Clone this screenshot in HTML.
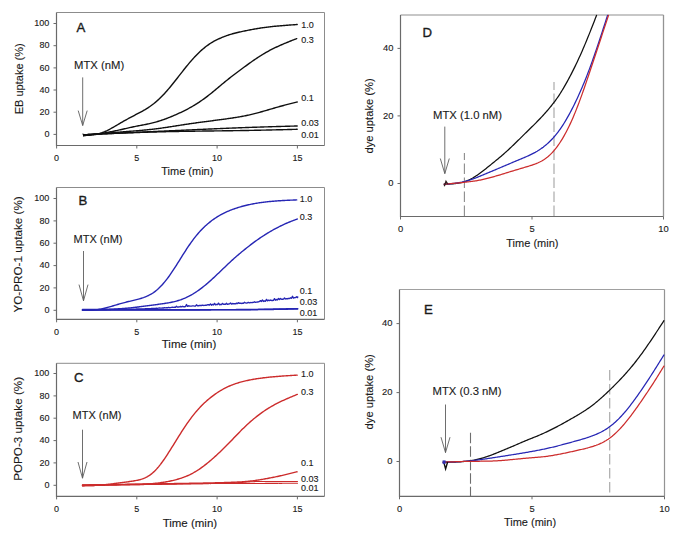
<!DOCTYPE html><html><head><meta charset="utf-8"><style>
html,body{margin:0;padding:0;background:#fff;width:685px;height:542px;overflow:hidden}
svg{display:block} text{font-family:"Liberation Sans", sans-serif;fill:#1a1a1a;stroke:#1a1a1a;stroke-width:0.12px} .t{font-size:9px} .ti{font-size:11px} .pl{font-size:13.2px;stroke-width:0.35px} .cl{font-size:9px} .mt{font-size:11.3px}
</style></head><body>
<svg width="685" height="542" viewBox="0 0 685 542">
<path d="M56.5,12.5 H324.5" stroke="#8c8c8c" stroke-width="1.0" fill="none"/>
<path d="M324.5,12.5 V145.5" stroke="#8c8c8c" stroke-width="1.0" fill="none"/>
<path d="M56.5,12.5 V145.5 H324.5" stroke="#6a6a6a" stroke-width="1.2" fill="none"/>
<line x1="53.5" y1="134.4" x2="56.5" y2="134.4" stroke="#6a6a6a" stroke-width="1"/>
<text x="49.4" y="137.0" text-anchor="end" class="t" style="font-size:9px">0</text>
<line x1="53.5" y1="112.2" x2="56.5" y2="112.2" stroke="#6a6a6a" stroke-width="1"/>
<text x="49.4" y="114.8" text-anchor="end" class="t" style="font-size:9px">20</text>
<line x1="53.5" y1="90.0" x2="56.5" y2="90.0" stroke="#6a6a6a" stroke-width="1"/>
<text x="49.4" y="92.6" text-anchor="end" class="t" style="font-size:9px">40</text>
<line x1="53.5" y1="67.9" x2="56.5" y2="67.9" stroke="#6a6a6a" stroke-width="1"/>
<text x="49.4" y="70.5" text-anchor="end" class="t" style="font-size:9px">60</text>
<line x1="53.5" y1="45.7" x2="56.5" y2="45.7" stroke="#6a6a6a" stroke-width="1"/>
<text x="49.4" y="48.3" text-anchor="end" class="t" style="font-size:9px">80</text>
<line x1="53.5" y1="23.5" x2="56.5" y2="23.5" stroke="#6a6a6a" stroke-width="1"/>
<text x="49.4" y="26.1" text-anchor="end" class="t" style="font-size:9px">100</text>
<line x1="56.6" y1="145.5" x2="56.6" y2="148.5" stroke="#6a6a6a" stroke-width="1"/>
<text x="56.6" y="160.7" text-anchor="middle" class="t" style="font-size:9px">0</text>
<line x1="136.8" y1="145.5" x2="136.8" y2="148.5" stroke="#6a6a6a" stroke-width="1"/>
<text x="136.8" y="160.7" text-anchor="middle" class="t" style="font-size:9px">5</text>
<line x1="217.1" y1="145.5" x2="217.1" y2="148.5" stroke="#6a6a6a" stroke-width="1"/>
<text x="217.1" y="160.7" text-anchor="middle" class="t" style="font-size:9px">10</text>
<line x1="297.4" y1="145.5" x2="297.4" y2="148.5" stroke="#6a6a6a" stroke-width="1"/>
<text x="297.4" y="160.7" text-anchor="middle" class="t" style="font-size:9px">15</text>
<text x="187.3" y="175.2" text-anchor="middle" class="ti" style="font-size:11px">Time (min)</text>
<text transform="translate(22.6,78.8) rotate(-90)" text-anchor="middle" class="ti" style="font-size:11px">EB uptake (%)</text>
<text x="76.5" y="32.4" class="pl">A</text>
<text x="74" y="68.6" class="mt">MTX (nM)</text>
<path d="M82.7,77.4 V125.5 M78.2,110.6 L82.7,125.5 L87.2,110.6" stroke="#5e5e5e" stroke-width="0.9" fill="none"/>
<path d="M83.60,134.80 L84.60,134.75 L85.60,134.70 L86.60,134.66 L87.60,134.61 L88.60,134.56 L89.60,134.51 L90.60,134.46 L91.60,134.42 L92.60,134.37 L93.60,134.32 L94.60,134.28 L95.60,134.23 L96.60,134.18 L97.60,134.14 L98.60,134.09 L99.60,134.05 L100.60,134.00 L101.60,133.96 L102.60,133.91 L103.60,133.87 L104.60,133.82 L105.60,133.78 L106.60,133.74 L107.60,133.69 L108.60,133.65 L109.60,133.61 L110.60,133.56 L111.60,133.52 L112.60,133.48 L113.60,133.44 L114.60,133.39 L115.60,133.35 L116.60,133.31 L117.60,133.27 L118.60,133.23 L119.60,133.19 L120.60,133.15 L121.60,133.11 L122.60,133.07 L123.60,133.03 L124.60,132.99 L125.60,132.95 L126.60,132.91 L127.60,132.88 L128.60,132.84 L129.60,132.80 L130.60,132.76 L131.60,132.73 L132.60,132.69 L133.60,132.65 L134.60,132.62 L135.60,132.58 L136.60,132.55 L137.60,132.51 L138.60,132.48 L139.60,132.44 L140.60,132.41 L141.60,132.38 L142.60,132.35 L143.60,132.31 L144.60,132.28 L145.60,132.25 L146.60,132.22 L147.60,132.19 L148.60,132.16 L149.60,132.13 L150.60,132.10 L151.60,132.07 L152.60,132.04 L153.60,132.01 L154.60,131.98 L155.60,131.95 L156.60,131.93 L157.60,131.90 L158.60,131.87 L159.60,131.85 L160.60,131.82 L161.60,131.79 L162.60,131.77 L163.60,131.75 L164.60,131.72 L165.60,131.70 L166.60,131.67 L167.60,131.65 L168.60,131.63 L169.60,131.61 L170.60,131.59 L171.60,131.57 L172.60,131.55 L173.60,131.53 L174.60,131.51 L175.60,131.49 L176.60,131.47 L177.60,131.45 L178.60,131.43 L179.60,131.41 L180.60,131.40 L181.60,131.38 L182.60,131.36 L183.60,131.34 L184.60,131.33 L185.60,131.31 L186.60,131.30 L187.60,131.28 L188.60,131.26 L189.60,131.25 L190.60,131.23 L191.60,131.22 L192.60,131.20 L193.60,131.19 L194.60,131.18 L195.60,131.16 L196.60,131.15 L197.60,131.13 L198.60,131.12 L199.60,131.11 L200.60,131.09 L201.60,131.08 L202.60,131.07 L203.60,131.05 L204.60,131.04 L205.60,131.03 L206.60,131.02 L207.60,131.00 L208.60,130.99 L209.60,130.98 L210.60,130.97 L211.60,130.95 L212.60,130.94 L213.60,130.93 L214.60,130.92 L215.60,130.90 L216.60,130.89 L217.60,130.88 L218.60,130.87 L219.60,130.85 L220.60,130.84 L221.60,130.83 L222.60,130.82 L223.60,130.80 L224.60,130.79 L225.60,130.78 L226.60,130.76 L227.60,130.75 L228.60,130.74 L229.60,130.72 L230.60,130.71 L231.60,130.69 L232.60,130.68 L233.60,130.67 L234.60,130.65 L235.60,130.64 L236.60,130.62 L237.60,130.61 L238.60,130.59 L239.60,130.58 L240.60,130.56 L241.60,130.55 L242.60,130.53 L243.60,130.51 L244.60,130.50 L245.60,130.48 L246.60,130.46 L247.60,130.44 L248.60,130.43 L249.60,130.41 L250.60,130.39 L251.60,130.37 L252.60,130.35 L253.60,130.33 L254.60,130.31 L255.60,130.29 L256.60,130.27 L257.60,130.25 L258.60,130.23 L259.60,130.21 L260.60,130.19 L261.60,130.17 L262.60,130.15 L263.60,130.12 L264.60,130.10 L265.60,130.08 L266.60,130.06 L267.60,130.04 L268.60,130.01 L269.60,129.99 L270.60,129.97 L271.60,129.94 L272.60,129.92 L273.60,129.90 L274.60,129.87 L275.60,129.85 L276.60,129.82 L277.60,129.80 L278.60,129.78 L279.60,129.75 L280.60,129.73 L281.60,129.70 L282.60,129.68 L283.60,129.65 L284.60,129.63 L285.60,129.60 L286.60,129.58 L287.60,129.55 L288.60,129.52 L289.60,129.50 L290.60,129.47 L291.60,129.45 L292.60,129.42 L293.60,129.39 L294.60,129.37 L295.60,129.34 L296.60,129.32 L297.20,129.30" stroke="#101010" stroke-width="1.4" fill="none" stroke-linejoin="round" stroke-linecap="round"/>
<path d="M83.60,134.80 L84.60,134.75 L85.60,134.70 L86.60,134.66 L87.60,134.61 L88.60,134.56 L89.60,134.51 L90.60,134.46 L91.60,134.42 L92.60,134.37 L93.60,134.32 L94.60,134.27 L95.60,134.22 L96.60,134.18 L97.60,134.13 L98.60,134.08 L99.60,134.03 L100.60,133.99 L101.60,133.94 L102.60,133.89 L103.60,133.84 L104.60,133.80 L105.60,133.75 L106.60,133.70 L107.60,133.65 L108.60,133.61 L109.60,133.56 L110.60,133.51 L111.60,133.47 L112.60,133.42 L113.60,133.37 L114.60,133.33 L115.60,133.28 L116.60,133.23 L117.60,133.19 L118.60,133.14 L119.60,133.09 L120.60,133.05 L121.60,133.00 L122.60,132.95 L123.60,132.91 L124.60,132.86 L125.60,132.81 L126.60,132.77 L127.60,132.72 L128.60,132.67 L129.60,132.63 L130.60,132.58 L131.60,132.54 L132.60,132.49 L133.60,132.44 L134.60,132.40 L135.60,132.35 L136.60,132.31 L137.60,132.26 L138.60,132.21 L139.60,132.17 L140.60,132.12 L141.60,132.08 L142.60,132.03 L143.60,131.99 L144.60,131.94 L145.60,131.89 L146.60,131.85 L147.60,131.80 L148.60,131.76 L149.60,131.71 L150.60,131.67 L151.60,131.62 L152.60,131.58 L153.60,131.53 L154.60,131.49 L155.60,131.44 L156.60,131.40 L157.60,131.35 L158.60,131.31 L159.60,131.26 L160.60,131.22 L161.60,131.17 L162.60,131.13 L163.60,131.08 L164.60,131.04 L165.60,131.00 L166.60,130.95 L167.60,130.91 L168.60,130.86 L169.60,130.82 L170.60,130.77 L171.60,130.73 L172.60,130.68 L173.60,130.64 L174.60,130.60 L175.60,130.55 L176.60,130.51 L177.60,130.46 L178.60,130.42 L179.60,130.37 L180.60,130.33 L181.60,130.28 L182.60,130.23 L183.60,130.19 L184.60,130.14 L185.60,130.10 L186.60,130.05 L187.60,130.01 L188.60,129.96 L189.60,129.92 L190.60,129.87 L191.60,129.83 L192.60,129.78 L193.60,129.74 L194.60,129.69 L195.60,129.65 L196.60,129.60 L197.60,129.56 L198.60,129.51 L199.60,129.47 L200.60,129.42 L201.60,129.38 L202.60,129.33 L203.60,129.29 L204.60,129.24 L205.60,129.20 L206.60,129.15 L207.60,129.11 L208.60,129.06 L209.60,129.02 L210.60,128.97 L211.60,128.93 L212.60,128.89 L213.60,128.84 L214.60,128.80 L215.60,128.76 L216.60,128.71 L217.60,128.67 L218.60,128.63 L219.60,128.58 L220.60,128.54 L221.60,128.50 L222.60,128.46 L223.60,128.42 L224.60,128.37 L225.60,128.33 L226.60,128.29 L227.60,128.25 L228.60,128.21 L229.60,128.17 L230.60,128.13 L231.60,128.09 L232.60,128.05 L233.60,128.01 L234.60,127.97 L235.60,127.93 L236.60,127.89 L237.60,127.85 L238.60,127.81 L239.60,127.78 L240.60,127.74 L241.60,127.70 L242.60,127.66 L243.60,127.63 L244.60,127.59 L245.60,127.55 L246.60,127.52 L247.60,127.48 L248.60,127.45 L249.60,127.41 L250.60,127.38 L251.60,127.35 L252.60,127.31 L253.60,127.28 L254.60,127.24 L255.60,127.21 L256.60,127.18 L257.60,127.14 L258.60,127.11 L259.60,127.08 L260.60,127.05 L261.60,127.01 L262.60,126.98 L263.60,126.95 L264.60,126.92 L265.60,126.89 L266.60,126.86 L267.60,126.83 L268.60,126.79 L269.60,126.76 L270.60,126.73 L271.60,126.70 L272.60,126.67 L273.60,126.64 L274.60,126.61 L275.60,126.58 L276.60,126.56 L277.60,126.53 L278.60,126.50 L279.60,126.47 L280.60,126.44 L281.60,126.41 L282.60,126.39 L283.60,126.36 L284.60,126.33 L285.60,126.30 L286.60,126.28 L287.60,126.25 L288.60,126.22 L289.60,126.20 L290.60,126.17 L291.60,126.14 L292.60,126.12 L293.60,126.09 L294.60,126.07 L295.60,126.04 L296.60,126.01 L297.20,126.00" stroke="#101010" stroke-width="1.4" fill="none" stroke-linejoin="round" stroke-linecap="round"/>
<path d="M83.60,134.80 L84.60,134.74 L85.60,134.67 L86.60,134.60 L87.60,134.54 L88.60,134.47 L89.60,134.41 L90.60,134.34 L91.60,134.27 L92.60,134.21 L93.60,134.14 L94.60,134.07 L95.60,134.00 L96.60,133.93 L97.60,133.86 L98.60,133.79 L99.60,133.72 L100.60,133.65 L101.60,133.57 L102.60,133.50 L103.60,133.42 L104.60,133.35 L105.60,133.27 L106.60,133.19 L107.60,133.11 L108.60,133.03 L109.60,132.95 L110.60,132.87 L111.60,132.79 L112.60,132.71 L113.60,132.63 L114.60,132.54 L115.60,132.46 L116.60,132.38 L117.60,132.30 L118.60,132.21 L119.60,132.13 L120.60,132.05 L121.60,131.97 L122.60,131.88 L123.60,131.80 L124.60,131.72 L125.60,131.64 L126.60,131.56 L127.60,131.48 L128.60,131.40 L129.60,131.32 L130.60,131.24 L131.60,131.16 L132.60,131.08 L133.60,131.00 L134.60,130.92 L135.60,130.84 L136.60,130.76 L137.60,130.68 L138.60,130.60 L139.60,130.51 L140.60,130.43 L141.60,130.34 L142.60,130.25 L143.60,130.16 L144.60,130.07 L145.60,129.97 L146.60,129.87 L147.60,129.77 L148.60,129.67 L149.60,129.57 L150.60,129.46 L151.60,129.34 L152.60,129.23 L153.60,129.11 L154.60,128.99 L155.60,128.87 L156.60,128.74 L157.60,128.61 L158.60,128.48 L159.60,128.34 L160.60,128.21 L161.60,128.07 L162.60,127.93 L163.60,127.78 L164.60,127.64 L165.60,127.49 L166.60,127.34 L167.60,127.19 L168.60,127.04 L169.60,126.89 L170.60,126.74 L171.60,126.58 L172.60,126.43 L173.60,126.27 L174.60,126.11 L175.60,125.95 L176.60,125.80 L177.60,125.64 L178.60,125.48 L179.60,125.32 L180.60,125.17 L181.60,125.01 L182.60,124.85 L183.60,124.70 L184.60,124.54 L185.60,124.39 L186.60,124.24 L187.60,124.09 L188.60,123.94 L189.60,123.79 L190.60,123.64 L191.60,123.50 L192.60,123.36 L193.60,123.22 L194.60,123.08 L195.60,122.94 L196.60,122.80 L197.60,122.66 L198.60,122.53 L199.60,122.39 L200.60,122.26 L201.60,122.12 L202.60,121.99 L203.60,121.86 L204.60,121.73 L205.60,121.60 L206.60,121.47 L207.60,121.34 L208.60,121.21 L209.60,121.08 L210.60,120.95 L211.60,120.82 L212.60,120.69 L213.60,120.56 L214.60,120.43 L215.60,120.30 L216.60,120.17 L217.60,120.04 L218.60,119.91 L219.60,119.78 L220.60,119.64 L221.60,119.51 L222.60,119.38 L223.60,119.24 L224.60,119.10 L225.60,118.96 L226.60,118.82 L227.60,118.68 L228.60,118.54 L229.60,118.40 L230.60,118.25 L231.60,118.10 L232.60,117.95 L233.60,117.80 L234.60,117.64 L235.60,117.48 L236.60,117.32 L237.60,117.16 L238.60,116.99 L239.60,116.82 L240.60,116.64 L241.60,116.46 L242.60,116.27 L243.60,116.08 L244.60,115.89 L245.60,115.69 L246.60,115.49 L247.60,115.28 L248.60,115.06 L249.60,114.84 L250.60,114.61 L251.60,114.38 L252.60,114.13 L253.60,113.89 L254.60,113.64 L255.60,113.38 L256.60,113.12 L257.60,112.86 L258.60,112.59 L259.60,112.31 L260.60,112.04 L261.60,111.76 L262.60,111.48 L263.60,111.19 L264.60,110.90 L265.60,110.61 L266.60,110.32 L267.60,110.03 L268.60,109.73 L269.60,109.44 L270.60,109.15 L271.60,108.85 L272.60,108.56 L273.60,108.26 L274.60,107.97 L275.60,107.68 L276.60,107.39 L277.60,107.11 L278.60,106.82 L279.60,106.54 L280.60,106.27 L281.60,105.99 L282.60,105.72 L283.60,105.45 L284.60,105.19 L285.60,104.93 L286.60,104.67 L287.60,104.41 L288.60,104.15 L289.60,103.90 L290.60,103.64 L291.60,103.39 L292.60,103.14 L293.60,102.89 L294.60,102.64 L295.60,102.39 L296.60,102.15 L297.20,102.00" stroke="#101010" stroke-width="1.4" fill="none" stroke-linejoin="round" stroke-linecap="round"/>
<path d="M82.2,133.6 L85.6,134.2 L83.8,137 Z" fill="#101010"/>
<path d="M83.60,135.50 L84.60,135.40 L85.60,135.30 L86.60,135.20 L87.60,135.09 L88.60,134.99 L89.60,134.88 L90.60,134.77 L91.60,134.66 L92.60,134.55 L93.60,134.43 L94.60,134.31 L95.60,134.19 L96.60,134.06 L97.60,133.93 L98.60,133.80 L99.60,133.66 L100.60,133.51 L101.60,133.37 L102.60,133.21 L103.60,133.05 L104.60,132.89 L105.60,132.72 L106.60,132.55 L107.60,132.37 L108.60,132.19 L109.60,132.00 L110.60,131.81 L111.60,131.62 L112.60,131.42 L113.60,131.22 L114.60,131.01 L115.60,130.80 L116.60,130.59 L117.60,130.37 L118.60,130.16 L119.60,129.93 L120.60,129.71 L121.60,129.48 L122.60,129.25 L123.60,129.02 L124.60,128.79 L125.60,128.57 L126.60,128.34 L127.60,128.11 L128.60,127.89 L129.60,127.66 L130.60,127.44 L131.60,127.22 L132.60,127.01 L133.60,126.80 L134.60,126.59 L135.60,126.38 L136.60,126.18 L137.60,125.99 L138.60,125.79 L139.60,125.60 L140.60,125.41 L141.60,125.22 L142.60,125.03 L143.60,124.84 L144.60,124.65 L145.60,124.45 L146.60,124.25 L147.60,124.05 L148.60,123.83 L149.60,123.61 L150.60,123.38 L151.60,123.15 L152.60,122.90 L153.60,122.65 L154.60,122.38 L155.60,122.11 L156.60,121.83 L157.60,121.54 L158.60,121.23 L159.60,120.92 L160.60,120.60 L161.60,120.28 L162.60,119.94 L163.60,119.59 L164.60,119.23 L165.60,118.86 L166.60,118.49 L167.60,118.11 L168.60,117.71 L169.60,117.32 L170.60,116.91 L171.60,116.50 L172.60,116.08 L173.60,115.65 L174.60,115.22 L175.60,114.79 L176.60,114.34 L177.60,113.90 L178.60,113.44 L179.60,112.98 L180.60,112.51 L181.60,112.04 L182.60,111.56 L183.60,111.07 L184.60,110.57 L185.60,110.07 L186.60,109.56 L187.60,109.03 L188.60,108.50 L189.60,107.96 L190.60,107.41 L191.60,106.84 L192.60,106.26 L193.60,105.67 L194.60,105.07 L195.60,104.46 L196.60,103.83 L197.60,103.19 L198.60,102.54 L199.60,101.87 L200.60,101.20 L201.60,100.51 L202.60,99.80 L203.60,99.09 L204.60,98.36 L205.60,97.62 L206.60,96.86 L207.60,96.10 L208.60,95.32 L209.60,94.53 L210.60,93.73 L211.60,92.92 L212.60,92.10 L213.60,91.27 L214.60,90.44 L215.60,89.60 L216.60,88.77 L217.60,87.93 L218.60,87.09 L219.60,86.25 L220.60,85.42 L221.60,84.58 L222.60,83.75 L223.60,82.93 L224.60,82.11 L225.60,81.29 L226.60,80.48 L227.60,79.68 L228.60,78.88 L229.60,78.09 L230.60,77.31 L231.60,76.53 L232.60,75.75 L233.60,74.98 L234.60,74.22 L235.60,73.46 L236.60,72.70 L237.60,71.95 L238.60,71.21 L239.60,70.46 L240.60,69.72 L241.60,68.98 L242.60,68.25 L243.60,67.51 L244.60,66.78 L245.60,66.06 L246.60,65.33 L247.60,64.60 L248.60,63.88 L249.60,63.17 L250.60,62.45 L251.60,61.75 L252.60,61.05 L253.60,60.35 L254.60,59.66 L255.60,58.99 L256.60,58.31 L257.60,57.65 L258.60,57.00 L259.60,56.36 L260.60,55.72 L261.60,55.10 L262.60,54.49 L263.60,53.88 L264.60,53.29 L265.60,52.71 L266.60,52.14 L267.60,51.58 L268.60,51.03 L269.60,50.49 L270.60,49.96 L271.60,49.45 L272.60,48.94 L273.60,48.44 L274.60,47.95 L275.60,47.47 L276.60,47.00 L277.60,46.53 L278.60,46.07 L279.60,45.62 L280.60,45.18 L281.60,44.75 L282.60,44.31 L283.60,43.89 L284.60,43.47 L285.60,43.05 L286.60,42.64 L287.60,42.23 L288.60,41.83 L289.60,41.42 L290.60,41.02 L291.60,40.62 L292.60,40.22 L293.60,39.83 L294.60,39.43 L295.60,39.03 L296.60,38.64 L296.70,38.60" stroke="#101010" stroke-width="1.4" fill="none" stroke-linejoin="round" stroke-linecap="round"/>
<path d="M83.60,135.53 L84.60,135.48 L85.60,135.44 L86.60,135.39 L87.60,135.33 L88.60,135.27 L89.60,135.20 L90.60,135.11 L91.60,135.01 L92.60,134.90 L93.60,134.77 L94.60,134.61 L95.60,134.44 L96.60,134.25 L97.60,134.03 L98.60,133.78 L99.60,133.50 L100.60,133.19 L101.60,132.86 L102.60,132.49 L103.60,132.10 L104.60,131.69 L105.60,131.25 L106.60,130.79 L107.60,130.30 L108.60,129.80 L109.60,129.28 L110.60,128.75 L111.60,128.20 L112.60,127.64 L113.60,127.07 L114.60,126.49 L115.60,125.90 L116.60,125.32 L117.60,124.73 L118.60,124.14 L119.60,123.55 L120.60,122.96 L121.60,122.38 L122.60,121.81 L123.60,121.23 L124.60,120.66 L125.60,120.10 L126.60,119.54 L127.60,118.99 L128.60,118.44 L129.60,117.90 L130.60,117.36 L131.60,116.83 L132.60,116.30 L133.60,115.78 L134.60,115.26 L135.60,114.73 L136.60,114.21 L137.60,113.69 L138.60,113.17 L139.60,112.65 L140.60,112.12 L141.60,111.58 L142.60,111.03 L143.60,110.46 L144.60,109.89 L145.60,109.29 L146.60,108.68 L147.60,108.05 L148.60,107.39 L149.60,106.71 L150.60,106.01 L151.60,105.29 L152.60,104.54 L153.60,103.77 L154.60,102.96 L155.60,102.14 L156.60,101.28 L157.60,100.40 L158.60,99.49 L159.60,98.55 L160.60,97.58 L161.60,96.59 L162.60,95.57 L163.60,94.52 L164.60,93.44 L165.60,92.34 L166.60,91.21 L167.60,90.06 L168.60,88.89 L169.60,87.70 L170.60,86.49 L171.60,85.27 L172.60,84.03 L173.60,82.79 L174.60,81.53 L175.60,80.26 L176.60,78.99 L177.60,77.71 L178.60,76.43 L179.60,75.15 L180.60,73.86 L181.60,72.59 L182.60,71.31 L183.60,70.04 L184.60,68.78 L185.60,67.53 L186.60,66.30 L187.60,65.07 L188.60,63.86 L189.60,62.67 L190.60,61.50 L191.60,60.35 L192.60,59.22 L193.60,58.11 L194.60,57.03 L195.60,55.97 L196.60,54.93 L197.60,53.92 L198.60,52.93 L199.60,51.98 L200.60,51.05 L201.60,50.14 L202.60,49.27 L203.60,48.42 L204.60,47.60 L205.60,46.81 L206.60,46.04 L207.60,45.31 L208.60,44.60 L209.60,43.92 L210.60,43.27 L211.60,42.65 L212.60,42.05 L213.60,41.48 L214.60,40.93 L215.60,40.40 L216.60,39.90 L217.60,39.41 L218.60,38.94 L219.60,38.49 L220.60,38.06 L221.60,37.63 L222.60,37.22 L223.60,36.83 L224.60,36.44 L225.60,36.06 L226.60,35.70 L227.60,35.35 L228.60,35.01 L229.60,34.68 L230.60,34.36 L231.60,34.06 L232.60,33.77 L233.60,33.50 L234.60,33.23 L235.60,32.97 L236.60,32.73 L237.60,32.49 L238.60,32.26 L239.60,32.03 L240.60,31.81 L241.60,31.60 L242.60,31.39 L243.60,31.18 L244.60,30.98 L245.60,30.78 L246.60,30.58 L247.60,30.38 L248.60,30.18 L249.60,29.99 L250.60,29.80 L251.60,29.61 L252.60,29.42 L253.60,29.24 L254.60,29.06 L255.60,28.88 L256.60,28.71 L257.60,28.54 L258.60,28.37 L259.60,28.21 L260.60,28.05 L261.60,27.90 L262.60,27.75 L263.60,27.61 L264.60,27.47 L265.60,27.33 L266.60,27.20 L267.60,27.08 L268.60,26.96 L269.60,26.84 L270.60,26.73 L271.60,26.62 L272.60,26.52 L273.60,26.42 L274.60,26.32 L275.60,26.22 L276.60,26.13 L277.60,26.03 L278.60,25.95 L279.60,25.86 L280.60,25.77 L281.60,25.69 L282.60,25.61 L283.60,25.53 L284.60,25.44 L285.60,25.37 L286.60,25.29 L287.60,25.21 L288.60,25.13 L289.60,25.06 L290.60,24.98 L291.60,24.91 L292.60,24.84 L293.60,24.76 L294.60,24.69 L295.60,24.62 L296.60,24.54 L297.20,24.50" stroke="#101010" stroke-width="1.4" fill="none" stroke-linejoin="round" stroke-linecap="round"/>
<text x="301.2" y="28.3" class="cl">1.0</text>
<text x="301.2" y="43" class="cl">0.3</text>
<text x="301.2" y="101.3" class="cl">0.1</text>
<text x="301.2" y="126.1" class="cl">0.03</text>
<text x="301.2" y="138.4" class="cl">0.01</text>
<path d="M56.5,187.5 H324.5" stroke="#8c8c8c" stroke-width="1.0" fill="none"/>
<path d="M324.5,187.5 V319.3" stroke="#8c8c8c" stroke-width="1.0" fill="none"/>
<path d="M56.5,187.5 V319.3 H324.5" stroke="#6a6a6a" stroke-width="1.2" fill="none"/>
<line x1="53.5" y1="310.3" x2="56.5" y2="310.3" stroke="#6a6a6a" stroke-width="1"/>
<text x="49.4" y="312.9" text-anchor="end" class="t" style="font-size:9px">0</text>
<line x1="53.5" y1="287.9" x2="56.5" y2="287.9" stroke="#6a6a6a" stroke-width="1"/>
<text x="49.4" y="290.5" text-anchor="end" class="t" style="font-size:9px">20</text>
<line x1="53.5" y1="265.6" x2="56.5" y2="265.6" stroke="#6a6a6a" stroke-width="1"/>
<text x="49.4" y="268.2" text-anchor="end" class="t" style="font-size:9px">40</text>
<line x1="53.5" y1="243.2" x2="56.5" y2="243.2" stroke="#6a6a6a" stroke-width="1"/>
<text x="49.4" y="245.8" text-anchor="end" class="t" style="font-size:9px">60</text>
<line x1="53.5" y1="220.9" x2="56.5" y2="220.9" stroke="#6a6a6a" stroke-width="1"/>
<text x="49.4" y="223.5" text-anchor="end" class="t" style="font-size:9px">80</text>
<line x1="53.5" y1="198.5" x2="56.5" y2="198.5" stroke="#6a6a6a" stroke-width="1"/>
<text x="49.4" y="201.1" text-anchor="end" class="t" style="font-size:9px">100</text>
<line x1="56.6" y1="319.3" x2="56.6" y2="322.3" stroke="#6a6a6a" stroke-width="1"/>
<text x="56.6" y="334.5" text-anchor="middle" class="t" style="font-size:9px">0</text>
<line x1="136.8" y1="319.3" x2="136.8" y2="322.3" stroke="#6a6a6a" stroke-width="1"/>
<text x="136.8" y="334.5" text-anchor="middle" class="t" style="font-size:9px">5</text>
<line x1="217.1" y1="319.3" x2="217.1" y2="322.3" stroke="#6a6a6a" stroke-width="1"/>
<text x="217.1" y="334.5" text-anchor="middle" class="t" style="font-size:9px">10</text>
<line x1="297.4" y1="319.3" x2="297.4" y2="322.3" stroke="#6a6a6a" stroke-width="1"/>
<text x="297.4" y="334.5" text-anchor="middle" class="t" style="font-size:9px">15</text>
<text x="189" y="348.3" text-anchor="middle" class="ti" style="font-size:11.5px">Time (min)</text>
<text transform="translate(22.3,254.4) rotate(-90)" text-anchor="middle" class="ti" style="font-size:11.7px">YO-PRO-1 uptake (%)</text>
<text x="78.5" y="205.2" class="pl">B</text>
<text x="73.6" y="242.5" class="mt" style="font-size:11px">MTX (nM)</text>
<path d="M83.5,251 V300.8 M79.0,284.6 L83.5,300.8 L88.0,284.6" stroke="#5e5e5e" stroke-width="0.9" fill="none"/>
<path d="M82.50,310.00 L83.50,310.00 L84.50,310.00 L85.50,310.00 L86.50,310.00 L87.50,310.00 L88.50,310.00 L89.50,310.00 L90.50,310.00 L91.50,310.00 L92.50,310.00 L93.50,310.00 L94.50,310.00 L95.50,310.00 L96.50,310.00 L97.50,310.00 L98.50,310.00 L99.50,310.00 L100.50,310.00 L101.50,310.00 L102.50,310.00 L103.50,310.00 L104.50,310.00 L105.50,310.00 L106.50,310.00 L107.50,310.00 L108.50,310.00 L109.50,310.00 L110.50,310.00 L111.50,310.00 L112.50,310.00 L113.50,310.00 L114.50,310.00 L115.50,310.00 L116.50,310.00 L117.50,309.99 L118.50,309.99 L119.50,309.99 L120.50,309.99 L121.50,309.99 L122.50,309.99 L123.50,309.99 L124.50,309.99 L125.50,309.99 L126.50,309.99 L127.50,309.99 L128.50,309.99 L129.50,309.99 L130.50,309.99 L131.50,309.99 L132.50,309.99 L133.50,309.99 L134.50,309.99 L135.50,309.99 L136.50,309.99 L137.50,309.99 L138.50,309.99 L139.50,309.99 L140.50,309.99 L141.50,309.99 L142.50,309.98 L143.50,309.98 L144.50,309.98 L145.50,309.98 L146.50,309.98 L147.50,309.98 L148.50,309.98 L149.50,309.98 L150.50,309.98 L151.50,309.98 L152.50,309.98 L153.50,309.98 L154.50,309.98 L155.50,309.98 L156.50,309.98 L157.50,309.98 L158.50,309.98 L159.50,309.97 L160.50,309.97 L161.50,309.97 L162.50,309.97 L163.50,309.97 L164.50,309.97 L165.50,309.97 L166.50,309.97 L167.50,309.97 L168.50,309.97 L169.50,309.97 L170.50,309.97 L171.50,309.97 L172.50,309.96 L173.50,309.96 L174.50,309.96 L175.50,309.96 L176.50,309.96 L177.50,309.96 L178.50,309.96 L179.50,309.96 L180.50,309.96 L181.50,309.96 L182.50,309.96 L183.50,309.96 L184.50,309.95 L185.50,309.95 L186.50,309.95 L187.50,309.95 L188.50,309.95 L189.50,309.95 L190.50,309.95 L191.50,309.95 L192.50,309.95 L193.50,309.95 L194.50,309.94 L195.50,309.94 L196.50,309.94 L197.50,309.94 L198.50,309.94 L199.50,309.94 L200.50,309.94 L201.50,309.94 L202.50,309.94 L203.50,309.93 L204.50,309.93 L205.50,309.93 L206.50,309.93 L207.50,309.93 L208.50,309.93 L209.50,309.93 L210.50,309.93 L211.50,309.92 L212.50,309.92 L213.50,309.92 L214.50,309.92 L215.50,309.92 L216.50,309.92 L217.50,309.92 L218.50,309.92 L219.50,309.91 L220.50,309.91 L221.50,309.91 L222.50,309.91 L223.50,309.91 L224.50,309.91 L225.50,309.91 L226.50,309.91 L227.50,309.90 L228.50,309.90 L229.50,309.90 L230.50,309.90 L231.50,309.90 L232.50,309.89 L233.50,309.89 L234.50,309.89 L235.50,309.88 L236.50,309.88 L237.50,309.87 L238.50,309.87 L239.50,309.86 L240.50,309.85 L241.50,309.85 L242.50,309.84 L243.50,309.83 L244.50,309.82 L245.50,309.81 L246.50,309.80 L247.50,309.79 L248.50,309.78 L249.50,309.77 L250.50,309.76 L251.50,309.75 L252.50,309.74 L253.50,309.73 L254.50,309.71 L255.50,309.70 L256.50,309.69 L257.50,309.68 L258.50,309.66 L259.50,309.65 L260.50,309.63 L261.50,309.62 L262.50,309.60 L263.50,309.59 L264.50,309.57 L265.50,309.56 L266.50,309.54 L267.50,309.53 L268.50,309.51 L269.50,309.49 L270.50,309.48 L271.50,309.46 L272.50,309.44 L273.50,309.43 L274.50,309.41 L275.50,309.39 L276.50,309.38 L277.50,309.36 L278.50,309.34 L279.50,309.32 L280.50,309.31 L281.50,309.29 L282.50,309.27 L283.50,309.25 L284.50,309.23 L285.50,309.22 L286.50,309.20 L287.50,309.18 L288.50,309.16 L289.50,309.14 L290.50,309.13 L291.50,309.11 L292.50,309.09 L293.50,309.07 L294.50,309.06 L295.50,309.04 L296.50,309.02 L297.50,309.00 L297.70,309.00" stroke="#2626b4" stroke-width="1.4" fill="none" stroke-linejoin="round" stroke-linecap="round"/>
<path d="M82.50,309.80 L83.50,309.80 L84.50,309.80 L85.50,309.80 L86.50,309.80 L87.50,309.80 L88.50,309.80 L89.50,309.80 L90.50,309.80 L91.50,309.80 L92.50,309.80 L93.50,309.80 L94.50,309.80 L95.50,309.80 L96.50,309.80 L97.50,309.80 L98.50,309.80 L99.50,309.80 L100.50,309.80 L101.50,309.80 L102.50,309.80 L103.50,309.80 L104.50,309.80 L105.50,309.80 L106.50,309.79 L107.50,309.79 L108.50,309.79 L109.50,309.79 L110.50,309.79 L111.50,309.79 L112.50,309.79 L113.50,309.79 L114.50,309.79 L115.50,309.79 L116.50,309.79 L117.50,309.79 L118.50,309.79 L119.50,309.79 L120.50,309.79 L121.50,309.79 L122.50,309.79 L123.50,309.79 L124.50,309.78 L125.50,309.78 L126.50,309.78 L127.50,309.78 L128.50,309.78 L129.50,309.78 L130.50,309.78 L131.50,309.78 L132.50,309.78 L133.50,309.78 L134.50,309.78 L135.50,309.77 L136.50,309.77 L137.50,309.77 L138.50,309.77 L139.50,309.77 L140.50,309.77 L141.50,309.77 L142.50,309.77 L143.50,309.77 L144.50,309.77 L145.50,309.76 L146.50,309.76 L147.50,309.76 L148.50,309.76 L149.50,309.76 L150.50,309.76 L151.50,309.76 L152.50,309.76 L153.50,309.75 L154.50,309.75 L155.50,309.75 L156.50,309.75 L157.50,309.75 L158.50,309.75 L159.50,309.75 L160.50,309.75 L161.50,309.74 L162.50,309.74 L163.50,309.74 L164.50,309.74 L165.50,309.74 L166.50,309.74 L167.50,309.73 L168.50,309.73 L169.50,309.73 L170.50,309.73 L171.50,309.73 L172.50,309.73 L173.50,309.73 L174.50,309.72 L175.50,309.72 L176.50,309.72 L177.50,309.72 L178.50,309.72 L179.50,309.71 L180.50,309.71 L181.50,309.71 L182.50,309.71 L183.50,309.71 L184.50,309.71 L185.50,309.70 L186.50,309.70 L187.50,309.70 L188.50,309.70 L189.50,309.70 L190.50,309.69 L191.50,309.69 L192.50,309.69 L193.50,309.69 L194.50,309.69 L195.50,309.68 L196.50,309.68 L197.50,309.68 L198.50,309.68 L199.50,309.68 L200.50,309.67 L201.50,309.67 L202.50,309.67 L203.50,309.67 L204.50,309.66 L205.50,309.66 L206.50,309.66 L207.50,309.66 L208.50,309.65 L209.50,309.65 L210.50,309.65 L211.50,309.65 L212.50,309.65 L213.50,309.64 L214.50,309.64 L215.50,309.64 L216.50,309.64 L217.50,309.63 L218.50,309.63 L219.50,309.63 L220.50,309.63 L221.50,309.62 L222.50,309.62 L223.50,309.62 L224.50,309.61 L225.50,309.61 L226.50,309.61 L227.50,309.61 L228.50,309.60 L229.50,309.60 L230.50,309.60 L231.50,309.60 L232.50,309.59 L233.50,309.59 L234.50,309.58 L235.50,309.58 L236.50,309.57 L237.50,309.56 L238.50,309.56 L239.50,309.55 L240.50,309.54 L241.50,309.53 L242.50,309.52 L243.50,309.51 L244.50,309.50 L245.50,309.49 L246.50,309.48 L247.50,309.47 L248.50,309.46 L249.50,309.45 L250.50,309.44 L251.50,309.42 L252.50,309.41 L253.50,309.40 L254.50,309.38 L255.50,309.37 L256.50,309.35 L257.50,309.34 L258.50,309.32 L259.50,309.31 L260.50,309.29 L261.50,309.28 L262.50,309.26 L263.50,309.24 L264.50,309.23 L265.50,309.21 L266.50,309.19 L267.50,309.17 L268.50,309.16 L269.50,309.14 L270.50,309.12 L271.50,309.10 L272.50,309.08 L273.50,309.07 L274.50,309.05 L275.50,309.03 L276.50,309.01 L277.50,308.99 L278.50,308.97 L279.50,308.95 L280.50,308.93 L281.50,308.91 L282.50,308.89 L283.50,308.88 L284.50,308.86 L285.50,308.84 L286.50,308.82 L287.50,308.80 L288.50,308.78 L289.50,308.76 L290.50,308.74 L291.50,308.72 L292.50,308.70 L293.50,308.68 L294.50,308.66 L295.50,308.64 L296.50,308.62 L297.50,308.60 L297.70,308.60" stroke="#2626b4" stroke-width="1.4" fill="none" stroke-linejoin="round" stroke-linecap="round"/>
<path d="M82.50,309.50 L83.50,309.50 L84.50,309.50 L85.50,309.50 L86.50,309.50 L87.50,309.50 L88.50,309.50 L89.50,309.50 L90.50,309.49 L91.50,309.49 L92.50,309.49 L93.50,309.49 L94.50,309.49 L95.50,309.49 L96.50,309.49 L97.50,309.48 L98.50,309.48 L99.50,309.48 L100.50,309.48 L101.50,309.47 L102.50,309.47 L103.50,309.46 L104.50,309.46 L105.50,309.46 L106.50,309.45 L107.50,309.45 L108.50,309.44 L109.50,309.43 L110.50,309.43 L111.50,309.42 L112.50,309.41 L113.50,309.41 L114.50,309.40 L115.50,309.39 L116.50,309.38 L117.50,309.37 L118.50,309.36 L119.50,309.35 L120.50,309.34 L121.50,309.32 L122.50,309.31 L123.50,309.30 L124.50,309.28 L125.50,309.27 L126.50,309.25 L127.50,309.24 L128.50,309.22 L129.50,309.20 L130.50,309.18 L131.50,309.16 L132.50,309.14 L133.50,309.12 L134.50,309.10 L135.50,309.08 L136.50,309.06 L137.50,309.03 L138.50,309.01 L139.50,308.98 L140.50,308.95 L141.50,308.93 L142.50,308.90 L143.50,308.87 L144.50,308.84 L145.50,308.81 L146.50,308.77 L147.50,308.74 L148.50,308.71 L149.50,308.67 L150.50,308.61 L151.50,308.57 L152.50,308.54 L153.50,308.51 L154.50,308.44 L155.50,308.43 L156.50,308.13 L157.50,308.34 L158.50,308.15 L159.50,308.06 L160.50,308.16 L161.50,308.13 L162.50,308.04 L163.50,308.00 L164.50,307.70 L165.50,307.91 L166.50,307.73 L167.50,307.81 L168.50,307.42 L169.50,307.69 L170.50,307.65 L171.50,307.40 L172.50,307.29 L173.50,307.40 L174.50,307.32 L175.50,307.26 L176.50,306.25 L177.50,307.17 L178.50,307.01 L179.50,306.91 L180.50,306.48 L181.50,306.90 L182.50,306.31 L183.50,306.70 L184.50,306.69 L185.50,306.54 L186.50,304.55 L187.50,306.32 L188.50,305.75 L189.50,306.02 L190.50,306.13 L191.50,306.12 L192.50,305.87 L193.50,305.90 L194.50,306.08 L195.50,306.02 L196.50,304.85 L197.50,305.74 L198.50,305.70 L199.50,305.53 L200.50,305.57 L201.50,305.46 L202.50,305.16 L203.50,305.43 L204.50,305.35 L205.50,305.28 L206.50,305.24 L207.50,304.77 L208.50,304.77 L209.50,305.16 L210.50,303.91 L211.50,305.16 L212.50,304.36 L213.50,304.90 L214.50,303.41 L215.50,304.77 L216.50,304.38 L217.50,304.62 L218.50,303.13 L219.50,304.69 L220.50,304.50 L221.50,304.57 L222.50,303.39 L223.50,304.33 L224.50,304.28 L225.50,304.26 L226.50,303.34 L227.50,304.40 L228.50,304.06 L229.50,303.89 L230.50,302.90 L231.50,304.01 L232.50,303.52 L233.50,303.79 L234.50,303.72 L235.50,303.79 L236.50,303.23 L237.50,303.62 L238.50,302.64 L239.50,303.32 L240.50,303.12 L241.50,303.45 L242.50,303.27 L243.50,303.24 L244.50,302.30 L245.50,302.81 L246.50,303.14 L247.50,302.77 L248.50,302.37 L249.50,302.84 L250.50,302.55 L251.50,302.65 L252.50,302.44 L253.50,302.34 L254.50,301.81 L255.50,302.32 L256.50,302.17 L257.50,302.03 L258.50,301.89 L259.50,301.35 L260.50,300.67 L261.50,301.40 L262.50,300.03 L263.50,301.47 L264.50,300.96 L265.50,301.22 L266.50,299.41 L267.50,300.84 L268.50,300.16 L269.50,300.59 L270.50,300.01 L271.50,300.49 L272.50,300.54 L273.50,300.31 L274.50,298.71 L275.50,300.19 L276.50,299.51 L277.50,299.97 L278.50,298.48 L279.50,299.60 L280.50,298.57 L281.50,299.29 L282.50,299.28 L283.50,299.12 L284.50,298.00 L285.50,298.93 L286.50,298.73 L287.50,298.75 L288.50,298.36 L289.50,298.46 L290.50,297.77 L291.50,298.29 L292.50,296.32 L293.50,298.12 L294.50,297.62 L295.50,297.67 L296.50,296.77 L297.50,297.60 L297.70,297.02" stroke="#2626b4" stroke-width="1.4" fill="none" stroke-linejoin="round" stroke-linecap="round"/>
<path d="M82.50,310.20 L83.50,310.17 L84.50,310.15 L85.50,310.12 L86.50,310.09 L87.50,310.07 L88.50,310.04 L89.50,310.01 L90.50,309.98 L91.50,309.96 L92.50,309.93 L93.50,309.90 L94.50,309.87 L95.50,309.84 L96.50,309.80 L97.50,309.77 L98.50,309.74 L99.50,309.70 L100.50,309.67 L101.50,309.63 L102.50,309.60 L103.50,309.56 L104.50,309.52 L105.50,309.48 L106.50,309.43 L107.50,309.39 L108.50,309.35 L109.50,309.30 L110.50,309.25 L111.50,309.20 L112.50,309.15 L113.50,309.10 L114.50,309.04 L115.50,308.98 L116.50,308.93 L117.50,308.87 L118.50,308.80 L119.50,308.74 L120.50,308.67 L121.50,308.60 L122.50,308.53 L123.50,308.45 L124.50,308.38 L125.50,308.30 L126.50,308.21 L127.50,308.13 L128.50,308.04 L129.50,307.94 L130.50,307.85 L131.50,307.74 L132.50,307.64 L133.50,307.53 L134.50,307.42 L135.50,307.30 L136.50,307.18 L137.50,307.06 L138.50,306.94 L139.50,306.81 L140.50,306.68 L141.50,306.55 L142.50,306.42 L143.50,306.28 L144.50,306.15 L145.50,306.02 L146.50,305.88 L147.50,305.75 L148.50,305.61 L149.50,305.48 L150.50,305.35 L151.50,305.22 L152.50,305.09 L153.50,304.96 L154.50,304.83 L155.50,304.71 L156.50,304.58 L157.50,304.45 L158.50,304.31 L159.50,304.18 L160.50,304.04 L161.50,303.90 L162.50,303.76 L163.50,303.62 L164.50,303.47 L165.50,303.31 L166.50,303.16 L167.50,302.99 L168.50,302.82 L169.50,302.64 L170.50,302.45 L171.50,302.25 L172.50,302.04 L173.50,301.82 L174.50,301.58 L175.50,301.33 L176.50,301.07 L177.50,300.79 L178.50,300.49 L179.50,300.17 L180.50,299.84 L181.50,299.48 L182.50,299.11 L183.50,298.72 L184.50,298.31 L185.50,297.88 L186.50,297.42 L187.50,296.95 L188.50,296.46 L189.50,295.94 L190.50,295.40 L191.50,294.84 L192.50,294.26 L193.50,293.65 L194.50,293.03 L195.50,292.39 L196.50,291.72 L197.50,291.04 L198.50,290.34 L199.50,289.62 L200.50,288.88 L201.50,288.12 L202.50,287.35 L203.50,286.56 L204.50,285.76 L205.50,284.94 L206.50,284.10 L207.50,283.25 L208.50,282.39 L209.50,281.51 L210.50,280.62 L211.50,279.72 L212.50,278.81 L213.50,277.88 L214.50,276.95 L215.50,276.01 L216.50,275.06 L217.50,274.11 L218.50,273.15 L219.50,272.19 L220.50,271.23 L221.50,270.27 L222.50,269.30 L223.50,268.34 L224.50,267.38 L225.50,266.43 L226.50,265.48 L227.50,264.53 L228.50,263.59 L229.50,262.65 L230.50,261.73 L231.50,260.81 L232.50,259.89 L233.50,258.99 L234.50,258.10 L235.50,257.21 L236.50,256.33 L237.50,255.47 L238.50,254.61 L239.50,253.76 L240.50,252.91 L241.50,252.08 L242.50,251.25 L243.50,250.44 L244.50,249.63 L245.50,248.83 L246.50,248.03 L247.50,247.25 L248.50,246.47 L249.50,245.69 L250.50,244.93 L251.50,244.16 L252.50,243.41 L253.50,242.66 L254.50,241.92 L255.50,241.19 L256.50,240.47 L257.50,239.76 L258.50,239.06 L259.50,238.37 L260.50,237.69 L261.50,237.03 L262.50,236.37 L263.50,235.72 L264.50,235.08 L265.50,234.45 L266.50,233.83 L267.50,233.21 L268.50,232.60 L269.50,232.01 L270.50,231.42 L271.50,230.84 L272.50,230.26 L273.50,229.70 L274.50,229.14 L275.50,228.60 L276.50,228.06 L277.50,227.53 L278.50,227.01 L279.50,226.50 L280.50,226.00 L281.50,225.51 L282.50,225.04 L283.50,224.57 L284.50,224.12 L285.50,223.67 L286.50,223.24 L287.50,222.81 L288.50,222.40 L289.50,221.99 L290.50,221.59 L291.50,221.19 L292.50,220.80 L293.50,220.42 L294.50,220.04 L295.50,219.66 L296.50,219.29 L297.30,218.99" stroke="#2626b4" stroke-width="1.4" fill="none" stroke-linejoin="round" stroke-linecap="round"/>
<path d="M82.50,310.22 L83.50,310.22 L84.50,310.21 L85.50,310.21 L86.50,310.20 L87.50,310.19 L88.50,310.17 L89.50,310.14 L90.50,310.11 L91.50,310.07 L92.50,310.02 L93.50,309.95 L94.50,309.88 L95.50,309.79 L96.50,309.69 L97.50,309.57 L98.50,309.43 L99.50,309.28 L100.50,309.11 L101.50,308.92 L102.50,308.71 L103.50,308.49 L104.50,308.25 L105.50,308.00 L106.50,307.74 L107.50,307.47 L108.50,307.19 L109.50,306.91 L110.50,306.62 L111.50,306.32 L112.50,306.03 L113.50,305.73 L114.50,305.43 L115.50,305.13 L116.50,304.83 L117.50,304.54 L118.50,304.24 L119.50,303.95 L120.50,303.67 L121.50,303.38 L122.50,303.11 L123.50,302.84 L124.50,302.57 L125.50,302.31 L126.50,302.05 L127.50,301.80 L128.50,301.55 L129.50,301.31 L130.50,301.06 L131.50,300.82 L132.50,300.58 L133.50,300.34 L134.50,300.10 L135.50,299.85 L136.50,299.60 L137.50,299.35 L138.50,299.08 L139.50,298.80 L140.50,298.52 L141.50,298.21 L142.50,297.89 L143.50,297.56 L144.50,297.20 L145.50,296.81 L146.50,296.41 L147.50,295.97 L148.50,295.50 L149.50,294.99 L150.50,294.45 L151.50,293.87 L152.50,293.25 L153.50,292.58 L154.50,291.87 L155.50,291.11 L156.50,290.31 L157.50,289.45 L158.50,288.55 L159.50,287.60 L160.50,286.60 L161.50,285.56 L162.50,284.47 L163.50,283.33 L164.50,282.15 L165.50,280.92 L166.50,279.65 L167.50,278.34 L168.50,276.98 L169.50,275.59 L170.50,274.16 L171.50,272.70 L172.50,271.21 L173.50,269.69 L174.50,268.16 L175.50,266.60 L176.50,265.03 L177.50,263.45 L178.50,261.86 L179.50,260.26 L180.50,258.66 L181.50,257.07 L182.50,255.47 L183.50,253.89 L184.50,252.32 L185.50,250.77 L186.50,249.23 L187.50,247.72 L188.50,246.23 L189.50,244.76 L190.50,243.32 L191.50,241.92 L192.50,240.54 L193.50,239.20 L194.50,237.89 L195.50,236.62 L196.50,235.39 L197.50,234.19 L198.50,233.03 L199.50,231.90 L200.50,230.81 L201.50,229.75 L202.50,228.72 L203.50,227.73 L204.50,226.77 L205.50,225.83 L206.50,224.92 L207.50,224.05 L208.50,223.20 L209.50,222.37 L210.50,221.58 L211.50,220.81 L212.50,220.06 L213.50,219.34 L214.50,218.64 L215.50,217.97 L216.50,217.32 L217.50,216.69 L218.50,216.08 L219.50,215.50 L220.50,214.93 L221.50,214.39 L222.50,213.86 L223.50,213.35 L224.50,212.85 L225.50,212.38 L226.50,211.91 L227.50,211.47 L228.50,211.04 L229.50,210.62 L230.50,210.21 L231.50,209.82 L232.50,209.45 L233.50,209.08 L234.50,208.73 L235.50,208.38 L236.50,208.05 L237.50,207.73 L238.50,207.42 L239.50,207.12 L240.50,206.83 L241.50,206.54 L242.50,206.27 L243.50,206.01 L244.50,205.75 L245.50,205.50 L246.50,205.26 L247.50,205.03 L248.50,204.80 L249.50,204.58 L250.50,204.37 L251.50,204.17 L252.50,203.97 L253.50,203.78 L254.50,203.60 L255.50,203.42 L256.50,203.25 L257.50,203.08 L258.50,202.92 L259.50,202.77 L260.50,202.62 L261.50,202.48 L262.50,202.34 L263.50,202.21 L264.50,202.09 L265.50,201.97 L266.50,201.85 L267.50,201.74 L268.50,201.64 L269.50,201.54 L270.50,201.44 L271.50,201.35 L272.50,201.26 L273.50,201.18 L274.50,201.10 L275.50,201.02 L276.50,200.95 L277.50,200.88 L278.50,200.81 L279.50,200.75 L280.50,200.69 L281.50,200.63 L282.50,200.57 L283.50,200.51 L284.50,200.46 L285.50,200.41 L286.50,200.36 L287.50,200.31 L288.50,200.26 L289.50,200.21 L290.50,200.17 L291.50,200.12 L292.50,200.08 L293.50,200.04 L294.50,199.99 L295.50,199.95 L296.50,199.91 L296.70,199.90" stroke="#2626b4" stroke-width="1.4" fill="none" stroke-linejoin="round" stroke-linecap="round"/>
<text x="299.8" y="201.8" class="cl">1.0</text>
<text x="299.8" y="219.5" class="cl">0.3</text>
<text x="299.8" y="294.2" class="cl">0.1</text>
<text x="299.8" y="304.8" class="cl">0.03</text>
<text x="299.8" y="315.7" class="cl">0.01</text>
<path d="M56.5,363.3 H324.5" stroke="#8c8c8c" stroke-width="1.0" fill="none"/>
<path d="M324.5,363.3 V496.4" stroke="#8c8c8c" stroke-width="1.0" fill="none"/>
<path d="M56.5,363.3 V496.4 H324.5" stroke="#6a6a6a" stroke-width="1.2" fill="none"/>
<line x1="53.5" y1="485.3" x2="56.5" y2="485.3" stroke="#6a6a6a" stroke-width="1"/>
<text x="49.4" y="487.9" text-anchor="end" class="t" style="font-size:9px">0</text>
<line x1="53.5" y1="462.9" x2="56.5" y2="462.9" stroke="#6a6a6a" stroke-width="1"/>
<text x="49.4" y="465.5" text-anchor="end" class="t" style="font-size:9px">20</text>
<line x1="53.5" y1="440.6" x2="56.5" y2="440.6" stroke="#6a6a6a" stroke-width="1"/>
<text x="49.4" y="443.2" text-anchor="end" class="t" style="font-size:9px">40</text>
<line x1="53.5" y1="418.2" x2="56.5" y2="418.2" stroke="#6a6a6a" stroke-width="1"/>
<text x="49.4" y="420.8" text-anchor="end" class="t" style="font-size:9px">60</text>
<line x1="53.5" y1="395.9" x2="56.5" y2="395.9" stroke="#6a6a6a" stroke-width="1"/>
<text x="49.4" y="398.5" text-anchor="end" class="t" style="font-size:9px">80</text>
<line x1="53.5" y1="373.5" x2="56.5" y2="373.5" stroke="#6a6a6a" stroke-width="1"/>
<text x="49.4" y="376.1" text-anchor="end" class="t" style="font-size:9px">100</text>
<line x1="56.6" y1="496.4" x2="56.6" y2="499.4" stroke="#6a6a6a" stroke-width="1"/>
<text x="56.6" y="511.6" text-anchor="middle" class="t" style="font-size:9px">0</text>
<line x1="136.8" y1="496.4" x2="136.8" y2="499.4" stroke="#6a6a6a" stroke-width="1"/>
<text x="136.8" y="511.6" text-anchor="middle" class="t" style="font-size:9px">5</text>
<line x1="217.1" y1="496.4" x2="217.1" y2="499.4" stroke="#6a6a6a" stroke-width="1"/>
<text x="217.1" y="511.6" text-anchor="middle" class="t" style="font-size:9px">10</text>
<line x1="297.4" y1="496.4" x2="297.4" y2="499.4" stroke="#6a6a6a" stroke-width="1"/>
<text x="297.4" y="511.6" text-anchor="middle" class="t" style="font-size:9px">15</text>
<text x="189.9" y="527" text-anchor="middle" class="ti" style="font-size:11.5px">Time (min)</text>
<text transform="translate(22.3,428.9) rotate(-90)" text-anchor="middle" class="ti" style="font-size:11.7px">POPO-3 uptake (%)</text>
<text x="74" y="382" class="pl">C</text>
<text x="72.6" y="419.2" class="mt" style="font-size:11px">MTX (nM)</text>
<path d="M82.5,429.7 V478.2 M78.0,462 L82.5,478.2 L87.0,462" stroke="#5e5e5e" stroke-width="0.9" fill="none"/>
<path d="M82.50,485.00 L83.50,484.98 L84.50,484.97 L85.50,484.95 L86.50,484.94 L87.50,484.92 L88.50,484.91 L89.50,484.89 L90.50,484.87 L91.50,484.86 L92.50,484.84 L93.50,484.83 L94.50,484.81 L95.50,484.80 L96.50,484.78 L97.50,484.77 L98.50,484.75 L99.50,484.74 L100.50,484.72 L101.50,484.71 L102.50,484.70 L103.50,484.68 L104.50,484.67 L105.50,484.65 L106.50,484.64 L107.50,484.62 L108.50,484.61 L109.50,484.60 L110.50,484.58 L111.50,484.57 L112.50,484.55 L113.50,484.54 L114.50,484.53 L115.50,484.51 L116.50,484.50 L117.50,484.49 L118.50,484.47 L119.50,484.46 L120.50,484.45 L121.50,484.44 L122.50,484.42 L123.50,484.41 L124.50,484.40 L125.50,484.38 L126.50,484.37 L127.50,484.36 L128.50,484.35 L129.50,484.33 L130.50,484.32 L131.50,484.31 L132.50,484.30 L133.50,484.29 L134.50,484.27 L135.50,484.26 L136.50,484.25 L137.50,484.24 L138.50,484.23 L139.50,484.21 L140.50,484.20 L141.50,484.19 L142.50,484.18 L143.50,484.17 L144.50,484.16 L145.50,484.15 L146.50,484.14 L147.50,484.12 L148.50,484.11 L149.50,484.10 L150.50,484.09 L151.50,484.08 L152.50,484.07 L153.50,484.06 L154.50,484.05 L155.50,484.04 L156.50,484.03 L157.50,484.02 L158.50,484.01 L159.50,484.00 L160.50,483.99 L161.50,483.98 L162.50,483.97 L163.50,483.96 L164.50,483.95 L165.50,483.94 L166.50,483.93 L167.50,483.92 L168.50,483.91 L169.50,483.90 L170.50,483.90 L171.50,483.89 L172.50,483.88 L173.50,483.87 L174.50,483.86 L175.50,483.85 L176.50,483.84 L177.50,483.83 L178.50,483.83 L179.50,483.82 L180.50,483.81 L181.50,483.80 L182.50,483.79 L183.50,483.78 L184.50,483.78 L185.50,483.77 L186.50,483.76 L187.50,483.75 L188.50,483.75 L189.50,483.74 L190.50,483.73 L191.50,483.72 L192.50,483.72 L193.50,483.71 L194.50,483.70 L195.50,483.69 L196.50,483.69 L197.50,483.68 L198.50,483.67 L199.50,483.67 L200.50,483.66 L201.50,483.65 L202.50,483.65 L203.50,483.64 L204.50,483.63 L205.50,483.63 L206.50,483.62 L207.50,483.62 L208.50,483.61 L209.50,483.60 L210.50,483.60 L211.50,483.59 L212.50,483.59 L213.50,483.58 L214.50,483.58 L215.50,483.57 L216.50,483.56 L217.50,483.56 L218.50,483.55 L219.50,483.55 L220.50,483.54 L221.50,483.54 L222.50,483.53 L223.50,483.53 L224.50,483.52 L225.50,483.52 L226.50,483.52 L227.50,483.51 L228.50,483.51 L229.50,483.50 L230.50,483.50 L231.50,483.49 L232.50,483.49 L233.50,483.49 L234.50,483.48 L235.50,483.48 L236.50,483.48 L237.50,483.47 L238.50,483.47 L239.50,483.47 L240.50,483.46 L241.50,483.46 L242.50,483.46 L243.50,483.45 L244.50,483.45 L245.50,483.45 L246.50,483.44 L247.50,483.44 L248.50,483.44 L249.50,483.44 L250.50,483.43 L251.50,483.43 L252.50,483.43 L253.50,483.43 L254.50,483.42 L255.50,483.42 L256.50,483.42 L257.50,483.42 L258.50,483.41 L259.50,483.41 L260.50,483.41 L261.50,483.40 L262.50,483.40 L263.50,483.40 L264.50,483.40 L265.50,483.39 L266.50,483.39 L267.50,483.39 L268.50,483.38 L269.50,483.38 L270.50,483.38 L271.50,483.37 L272.50,483.37 L273.50,483.37 L274.50,483.37 L275.50,483.36 L276.50,483.36 L277.50,483.36 L278.50,483.35 L279.50,483.35 L280.50,483.35 L281.50,483.35 L282.50,483.34 L283.50,483.34 L284.50,483.34 L285.50,483.33 L286.50,483.33 L287.50,483.33 L288.50,483.33 L289.50,483.32 L290.50,483.32 L291.50,483.32 L292.50,483.31 L293.50,483.31 L294.50,483.31 L295.50,483.31 L296.50,483.30 L297.50,483.30" stroke="#cc2c2c" stroke-width="1.05" fill="none" stroke-linejoin="round" stroke-linecap="round"/>
<path d="M82.50,485.00 L83.50,485.00 L84.50,485.00 L85.50,485.00 L86.50,485.00 L87.50,485.00 L88.50,485.00 L89.50,484.99 L90.50,484.99 L91.50,484.99 L92.50,484.99 L93.50,484.99 L94.50,484.98 L95.50,484.98 L96.50,484.98 L97.50,484.98 L98.50,484.97 L99.50,484.97 L100.50,484.96 L101.50,484.96 L102.50,484.96 L103.50,484.95 L104.50,484.95 L105.50,484.94 L106.50,484.94 L107.50,484.93 L108.50,484.93 L109.50,484.92 L110.50,484.91 L111.50,484.91 L112.50,484.90 L113.50,484.90 L114.50,484.89 L115.50,484.88 L116.50,484.88 L117.50,484.87 L118.50,484.86 L119.50,484.85 L120.50,484.85 L121.50,484.84 L122.50,484.83 L123.50,484.82 L124.50,484.81 L125.50,484.80 L126.50,484.79 L127.50,484.78 L128.50,484.78 L129.50,484.77 L130.50,484.76 L131.50,484.75 L132.50,484.74 L133.50,484.73 L134.50,484.72 L135.50,484.70 L136.50,484.69 L137.50,484.68 L138.50,484.67 L139.50,484.66 L140.50,484.65 L141.50,484.64 L142.50,484.63 L143.50,484.61 L144.50,484.60 L145.50,484.59 L146.50,484.58 L147.50,484.56 L148.50,484.55 L149.50,484.54 L150.50,484.52 L151.50,484.51 L152.50,484.50 L153.50,484.48 L154.50,484.47 L155.50,484.45 L156.50,484.44 L157.50,484.43 L158.50,484.41 L159.50,484.40 L160.50,484.38 L161.50,484.37 L162.50,484.35 L163.50,484.34 L164.50,484.32 L165.50,484.30 L166.50,484.29 L167.50,484.27 L168.50,484.26 L169.50,484.24 L170.50,484.22 L171.50,484.21 L172.50,484.19 L173.50,484.17 L174.50,484.16 L175.50,484.14 L176.50,484.12 L177.50,484.10 L178.50,484.09 L179.50,484.07 L180.50,484.05 L181.50,484.03 L182.50,484.01 L183.50,484.00 L184.50,483.98 L185.50,483.96 L186.50,483.94 L187.50,483.92 L188.50,483.90 L189.50,483.88 L190.50,483.86 L191.50,483.84 L192.50,483.82 L193.50,483.80 L194.50,483.78 L195.50,483.76 L196.50,483.74 L197.50,483.72 L198.50,483.70 L199.50,483.68 L200.50,483.66 L201.50,483.64 L202.50,483.62 L203.50,483.60 L204.50,483.58 L205.50,483.56 L206.50,483.54 L207.50,483.51 L208.50,483.49 L209.50,483.47 L210.50,483.45 L211.50,483.43 L212.50,483.41 L213.50,483.38 L214.50,483.36 L215.50,483.34 L216.50,483.32 L217.50,483.29 L218.50,483.27 L219.50,483.25 L220.50,483.22 L221.50,483.20 L222.50,483.18 L223.50,483.15 L224.50,483.13 L225.50,483.11 L226.50,483.08 L227.50,483.06 L228.50,483.04 L229.50,483.01 L230.50,482.99 L231.50,482.96 L232.50,482.92 L233.50,482.88 L234.50,482.84 L235.50,482.79 L236.50,482.74 L237.50,482.68 L238.50,482.62 L239.50,482.56 L240.50,482.50 L241.50,482.43 L242.50,482.37 L243.50,482.30 L244.50,482.23 L245.50,482.16 L246.50,482.10 L247.50,482.03 L248.50,481.97 L249.50,481.90 L250.50,481.84 L251.50,481.78 L252.50,481.72 L253.50,481.67 L254.50,481.62 L255.50,481.58 L256.50,481.53 L257.50,481.50 L258.50,481.47 L259.50,481.44 L260.50,481.42 L261.50,481.41 L262.50,481.40 L263.50,481.40 L264.50,481.40 L265.50,481.40 L266.50,481.40 L267.50,481.40 L268.50,481.40 L269.50,481.40 L270.50,481.40 L271.50,481.40 L272.50,481.40 L273.50,481.40 L274.50,481.40 L275.50,481.40 L276.50,481.40 L277.50,481.40 L278.50,481.40 L279.50,481.40 L280.50,481.40 L281.50,481.40 L282.50,481.40 L283.50,481.40 L284.50,481.40 L285.50,481.40 L286.50,481.40 L287.50,481.40 L288.50,481.40 L289.50,481.40 L290.50,481.40 L291.50,481.40 L292.50,481.40 L293.50,481.40 L294.50,481.40 L295.50,481.40 L296.50,481.40 L297.50,481.40" stroke="#cc2c2c" stroke-width="1.05" fill="none" stroke-linejoin="round" stroke-linecap="round"/>
<path d="M82.50,485.00 L83.50,484.98 L84.50,484.97 L85.50,484.95 L86.50,484.94 L87.50,484.92 L88.50,484.91 L89.50,484.89 L90.50,484.88 L91.50,484.86 L92.50,484.85 L93.50,484.83 L94.50,484.82 L95.50,484.80 L96.50,484.79 L97.50,484.77 L98.50,484.76 L99.50,484.74 L100.50,484.73 L101.50,484.71 L102.50,484.70 L103.50,484.68 L104.50,484.67 L105.50,484.65 L106.50,484.63 L107.50,484.62 L108.50,484.60 L109.50,484.59 L110.50,484.57 L111.50,484.56 L112.50,484.54 L113.50,484.53 L114.50,484.51 L115.50,484.50 L116.50,484.48 L117.50,484.47 L118.50,484.45 L119.50,484.44 L120.50,484.42 L121.50,484.40 L122.50,484.39 L123.50,484.37 L124.50,484.36 L125.50,484.34 L126.50,484.33 L127.50,484.31 L128.50,484.30 L129.50,484.28 L130.50,484.27 L131.50,484.25 L132.50,484.23 L133.50,484.22 L134.50,484.20 L135.50,484.19 L136.50,484.17 L137.50,484.16 L138.50,484.14 L139.50,484.13 L140.50,484.11 L141.50,484.09 L142.50,484.08 L143.50,484.06 L144.50,484.05 L145.50,484.03 L146.50,484.02 L147.50,484.00 L148.50,483.98 L149.50,483.97 L150.50,483.95 L151.50,483.94 L152.50,483.92 L153.50,483.90 L154.50,483.89 L155.50,483.87 L156.50,483.86 L157.50,483.84 L158.50,483.82 L159.50,483.81 L160.50,483.79 L161.50,483.78 L162.50,483.76 L163.50,483.74 L164.50,483.73 L165.50,483.71 L166.50,483.70 L167.50,483.68 L168.50,483.66 L169.50,483.65 L170.50,483.63 L171.50,483.61 L172.50,483.60 L173.50,483.58 L174.50,483.56 L175.50,483.55 L176.50,483.53 L177.50,483.52 L178.50,483.50 L179.50,483.48 L180.50,483.47 L181.50,483.45 L182.50,483.43 L183.50,483.42 L184.50,483.40 L185.50,483.38 L186.50,483.37 L187.50,483.35 L188.50,483.33 L189.50,483.31 L190.50,483.30 L191.50,483.28 L192.50,483.26 L193.50,483.25 L194.50,483.23 L195.50,483.21 L196.50,483.19 L197.50,483.18 L198.50,483.16 L199.50,483.14 L200.50,483.12 L201.50,483.10 L202.50,483.09 L203.50,483.07 L204.50,483.05 L205.50,483.03 L206.50,483.01 L207.50,482.99 L208.50,482.97 L209.50,482.94 L210.50,482.92 L211.50,482.90 L212.50,482.88 L213.50,482.85 L214.50,482.83 L215.50,482.81 L216.50,482.78 L217.50,482.76 L218.50,482.73 L219.50,482.70 L220.50,482.68 L221.50,482.65 L222.50,482.62 L223.50,482.59 L224.50,482.56 L225.50,482.53 L226.50,482.50 L227.50,482.46 L228.50,482.43 L229.50,482.39 L230.50,482.36 L231.50,482.32 L232.50,482.29 L233.50,482.25 L234.50,482.20 L235.50,482.16 L236.50,482.12 L237.50,482.07 L238.50,482.02 L239.50,481.96 L240.50,481.90 L241.50,481.84 L242.50,481.78 L243.50,481.71 L244.50,481.63 L245.50,481.55 L246.50,481.47 L247.50,481.38 L248.50,481.28 L249.50,481.18 L250.50,481.07 L251.50,480.95 L252.50,480.83 L253.50,480.71 L254.50,480.57 L255.50,480.44 L256.50,480.29 L257.50,480.15 L258.50,479.99 L259.50,479.84 L260.50,479.68 L261.50,479.51 L262.50,479.34 L263.50,479.17 L264.50,478.99 L265.50,478.81 L266.50,478.63 L267.50,478.44 L268.50,478.25 L269.50,478.06 L270.50,477.87 L271.50,477.67 L272.50,477.47 L273.50,477.27 L274.50,477.07 L275.50,476.86 L276.50,476.65 L277.50,476.44 L278.50,476.23 L279.50,476.01 L280.50,475.79 L281.50,475.56 L282.50,475.34 L283.50,475.11 L284.50,474.87 L285.50,474.64 L286.50,474.40 L287.50,474.16 L288.50,473.92 L289.50,473.67 L290.50,473.43 L291.50,473.18 L292.50,472.93 L293.50,472.68 L294.50,472.43 L295.50,472.18 L296.50,471.93 L297.00,471.80" stroke="#cc2c2c" stroke-width="1.4" fill="none" stroke-linejoin="round" stroke-linecap="round"/>
<path d="M82.50,485.70 L83.50,485.68 L84.50,485.65 L85.50,485.63 L86.50,485.60 L87.50,485.58 L88.50,485.56 L89.50,485.53 L90.50,485.51 L91.50,485.48 L92.50,485.46 L93.50,485.44 L94.50,485.41 L95.50,485.39 L96.50,485.37 L97.50,485.34 L98.50,485.32 L99.50,485.30 L100.50,485.27 L101.50,485.25 L102.50,485.23 L103.50,485.21 L104.50,485.18 L105.50,485.16 L106.50,485.14 L107.50,485.12 L108.50,485.09 L109.50,485.07 L110.50,485.05 L111.50,485.03 L112.50,485.01 L113.50,484.99 L114.50,484.97 L115.50,484.95 L116.50,484.93 L117.50,484.91 L118.50,484.89 L119.50,484.87 L120.50,484.85 L121.50,484.83 L122.50,484.81 L123.50,484.80 L124.50,484.78 L125.50,484.76 L126.50,484.74 L127.50,484.73 L128.50,484.71 L129.50,484.69 L130.50,484.67 L131.50,484.65 L132.50,484.63 L133.50,484.61 L134.50,484.59 L135.50,484.56 L136.50,484.53 L137.50,484.50 L138.50,484.47 L139.50,484.43 L140.50,484.40 L141.50,484.36 L142.50,484.31 L143.50,484.26 L144.50,484.21 L145.50,484.15 L146.50,484.09 L147.50,484.03 L148.50,483.96 L149.50,483.88 L150.50,483.80 L151.50,483.72 L152.50,483.63 L153.50,483.53 L154.50,483.43 L155.50,483.32 L156.50,483.21 L157.50,483.09 L158.50,482.97 L159.50,482.84 L160.50,482.70 L161.50,482.56 L162.50,482.41 L163.50,482.26 L164.50,482.10 L165.50,481.94 L166.50,481.76 L167.50,481.59 L168.50,481.40 L169.50,481.20 L170.50,481.00 L171.50,480.79 L172.50,480.56 L173.50,480.33 L174.50,480.09 L175.50,479.83 L176.50,479.57 L177.50,479.29 L178.50,479.00 L179.50,478.70 L180.50,478.39 L181.50,478.06 L182.50,477.71 L183.50,477.35 L184.50,476.97 L185.50,476.58 L186.50,476.17 L187.50,475.74 L188.50,475.29 L189.50,474.83 L190.50,474.34 L191.50,473.83 L192.50,473.31 L193.50,472.76 L194.50,472.19 L195.50,471.60 L196.50,470.99 L197.50,470.37 L198.50,469.72 L199.50,469.05 L200.50,468.37 L201.50,467.66 L202.50,466.93 L203.50,466.19 L204.50,465.43 L205.50,464.66 L206.50,463.86 L207.50,463.06 L208.50,462.24 L209.50,461.40 L210.50,460.55 L211.50,459.69 L212.50,458.82 L213.50,457.94 L214.50,457.04 L215.50,456.13 L216.50,455.22 L217.50,454.29 L218.50,453.35 L219.50,452.41 L220.50,451.45 L221.50,450.49 L222.50,449.52 L223.50,448.54 L224.50,447.55 L225.50,446.56 L226.50,445.56 L227.50,444.55 L228.50,443.53 L229.50,442.51 L230.50,441.48 L231.50,440.44 L232.50,439.40 L233.50,438.36 L234.50,437.31 L235.50,436.27 L236.50,435.23 L237.50,434.19 L238.50,433.16 L239.50,432.14 L240.50,431.12 L241.50,430.11 L242.50,429.12 L243.50,428.14 L244.50,427.17 L245.50,426.21 L246.50,425.27 L247.50,424.34 L248.50,423.43 L249.50,422.53 L250.50,421.65 L251.50,420.78 L252.50,419.92 L253.50,419.08 L254.50,418.26 L255.50,417.44 L256.50,416.64 L257.50,415.86 L258.50,415.09 L259.50,414.33 L260.50,413.59 L261.50,412.87 L262.50,412.16 L263.50,411.46 L264.50,410.78 L265.50,410.11 L266.50,409.46 L267.50,408.82 L268.50,408.20 L269.50,407.59 L270.50,406.99 L271.50,406.40 L272.50,405.83 L273.50,405.27 L274.50,404.72 L275.50,404.19 L276.50,403.66 L277.50,403.15 L278.50,402.65 L279.50,402.15 L280.50,401.67 L281.50,401.20 L282.50,400.73 L283.50,400.27 L284.50,399.82 L285.50,399.37 L286.50,398.93 L287.50,398.50 L288.50,398.07 L289.50,397.64 L290.50,397.22 L291.50,396.80 L292.50,396.38 L293.50,395.96 L294.50,395.55 L295.50,395.13 L296.50,394.72 L297.30,394.39" stroke="#cc2c2c" stroke-width="1.4" fill="none" stroke-linejoin="round" stroke-linecap="round"/>
<path d="M82.50,485.71 L83.50,485.69 L84.50,485.68 L85.50,485.66 L86.50,485.65 L87.50,485.63 L88.50,485.61 L89.50,485.59 L90.50,485.56 L91.50,485.53 L92.50,485.50 L93.50,485.47 L94.50,485.43 L95.50,485.38 L96.50,485.33 L97.50,485.28 L98.50,485.22 L99.50,485.15 L100.50,485.08 L101.50,485.01 L102.50,484.93 L103.50,484.84 L104.50,484.75 L105.50,484.65 L106.50,484.54 L107.50,484.43 L108.50,484.32 L109.50,484.20 L110.50,484.08 L111.50,483.95 L112.50,483.82 L113.50,483.69 L114.50,483.56 L115.50,483.43 L116.50,483.29 L117.50,483.16 L118.50,483.03 L119.50,482.89 L120.50,482.76 L121.50,482.63 L122.50,482.50 L123.50,482.37 L124.50,482.23 L125.50,482.10 L126.50,481.96 L127.50,481.83 L128.50,481.69 L129.50,481.55 L130.50,481.40 L131.50,481.25 L132.50,481.10 L133.50,480.94 L134.50,480.77 L135.50,480.59 L136.50,480.40 L137.50,480.20 L138.50,479.97 L139.50,479.73 L140.50,479.46 L141.50,479.16 L142.50,478.83 L143.50,478.47 L144.50,478.06 L145.50,477.61 L146.50,477.12 L147.50,476.57 L148.50,475.97 L149.50,475.32 L150.50,474.61 L151.50,473.84 L152.50,473.01 L153.50,472.13 L154.50,471.19 L155.50,470.18 L156.50,469.12 L157.50,468.00 L158.50,466.83 L159.50,465.60 L160.50,464.33 L161.50,463.00 L162.50,461.64 L163.50,460.23 L164.50,458.79 L165.50,457.32 L166.50,455.81 L167.50,454.28 L168.50,452.73 L169.50,451.16 L170.50,449.58 L171.50,447.98 L172.50,446.37 L173.50,444.76 L174.50,443.14 L175.50,441.53 L176.50,439.91 L177.50,438.30 L178.50,436.70 L179.50,435.11 L180.50,433.53 L181.50,431.96 L182.50,430.41 L183.50,428.88 L184.50,427.37 L185.50,425.88 L186.50,424.41 L187.50,422.96 L188.50,421.55 L189.50,420.15 L190.50,418.79 L191.50,417.45 L192.50,416.15 L193.50,414.88 L194.50,413.63 L195.50,412.42 L196.50,411.24 L197.50,410.09 L198.50,408.97 L199.50,407.88 L200.50,406.82 L201.50,405.78 L202.50,404.77 L203.50,403.79 L204.50,402.84 L205.50,401.91 L206.50,401.01 L207.50,400.13 L208.50,399.28 L209.50,398.44 L210.50,397.63 L211.50,396.85 L212.50,396.08 L213.50,395.33 L214.50,394.61 L215.50,393.90 L216.50,393.21 L217.50,392.54 L218.50,391.89 L219.50,391.26 L220.50,390.65 L221.50,390.06 L222.50,389.49 L223.50,388.94 L224.50,388.40 L225.50,387.89 L226.50,387.39 L227.50,386.92 L228.50,386.45 L229.50,386.01 L230.50,385.59 L231.50,385.18 L232.50,384.79 L233.50,384.41 L234.50,384.05 L235.50,383.70 L236.50,383.37 L237.50,383.05 L238.50,382.74 L239.50,382.45 L240.50,382.16 L241.50,381.89 L242.50,381.63 L243.50,381.38 L244.50,381.13 L245.50,380.90 L246.50,380.67 L247.50,380.45 L248.50,380.24 L249.50,380.04 L250.50,379.84 L251.50,379.65 L252.50,379.47 L253.50,379.29 L254.50,379.12 L255.50,378.96 L256.50,378.79 L257.50,378.64 L258.50,378.49 L259.50,378.34 L260.50,378.20 L261.50,378.07 L262.50,377.94 L263.50,377.81 L264.50,377.69 L265.50,377.57 L266.50,377.46 L267.50,377.35 L268.50,377.24 L269.50,377.14 L270.50,377.04 L271.50,376.94 L272.50,376.85 L273.50,376.76 L274.50,376.68 L275.50,376.59 L276.50,376.51 L277.50,376.43 L278.50,376.35 L279.50,376.28 L280.50,376.20 L281.50,376.13 L282.50,376.06 L283.50,375.99 L284.50,375.92 L285.50,375.85 L286.50,375.78 L287.50,375.71 L288.50,375.65 L289.50,375.58 L290.50,375.52 L291.50,375.46 L292.50,375.39 L293.50,375.33 L294.50,375.27 L295.50,375.20 L296.50,375.14 L297.20,375.10" stroke="#cc2c2c" stroke-width="1.4" fill="none" stroke-linejoin="round" stroke-linecap="round"/>
<text x="301.1" y="377" class="cl">1.0</text>
<text x="301.1" y="394.5" class="cl">0.3</text>
<text x="301.1" y="465.8" class="cl">0.1</text>
<text x="301.1" y="482.2" class="cl">0.03</text>
<text x="301.1" y="490.7" class="cl">0.01</text>
<path d="M400.5,15 H663.5" stroke="#b4b4b4" stroke-width="1.3" fill="none"/>
<path d="M663.5,15 V216.5" stroke="#939393" stroke-width="1.3" fill="none"/>
<path d="M400.5,15 V216.5 H663.5" stroke="#6a6a6a" stroke-width="1.2" fill="none"/>
<line x1="397.5" y1="183.5" x2="400.5" y2="183.5" stroke="#6a6a6a" stroke-width="1"/>
<text x="393.4" y="186.2" text-anchor="end" class="t" style="font-size:9.4px">0</text>
<line x1="397.5" y1="115.9" x2="400.5" y2="115.9" stroke="#6a6a6a" stroke-width="1"/>
<text x="393.4" y="118.7" text-anchor="end" class="t" style="font-size:9.4px">20</text>
<line x1="397.5" y1="48.4" x2="400.5" y2="48.4" stroke="#6a6a6a" stroke-width="1"/>
<text x="393.4" y="51.1" text-anchor="end" class="t" style="font-size:9.4px">40</text>
<line x1="400.5" y1="216.5" x2="400.5" y2="219.5" stroke="#6a6a6a" stroke-width="1"/>
<text x="400.5" y="231.9" text-anchor="middle" class="t" style="font-size:9.4px">0</text>
<line x1="532.0" y1="216.5" x2="532.0" y2="219.5" stroke="#6a6a6a" stroke-width="1"/>
<text x="532.0" y="231.9" text-anchor="middle" class="t" style="font-size:9.4px">5</text>
<line x1="663.5" y1="216.5" x2="663.5" y2="219.5" stroke="#6a6a6a" stroke-width="1"/>
<text x="663.5" y="231.9" text-anchor="middle" class="t" style="font-size:9.4px">10</text>
<text x="532.4" y="246.5" text-anchor="middle" class="ti" style="font-size:11px">Time (min)</text>
<text transform="translate(372.9,115.9) rotate(-90)" text-anchor="middle" class="ti" style="font-size:11.2px">dye uptake (%)</text>
<text x="422.5" y="36.9" class="pl">D</text>
<text x="433" y="119" class="mt">MTX (1.0 nM)</text>
<path d="M444.8,126.6 V173.6 M440.3,158.5 L444.8,173.6 L449.3,158.5" stroke="#5e5e5e" stroke-width="0.9" fill="none"/>
<line x1="464.4" y1="216" x2="464.4" y2="153" stroke="#8c8c8c" stroke-width="1.1" stroke-dasharray="10.5,3.5"/>
<line x1="554" y1="216" x2="554" y2="82" stroke="#ababab" stroke-width="1.2" stroke-dasharray="10.5,3.5"/>
<path d="M444.20,184.22 L445.20,184.19 L446.20,184.16 L447.20,184.13 L448.20,184.09 L449.20,184.05 L450.20,184.00 L451.20,183.94 L452.20,183.87 L453.20,183.79 L454.20,183.70 L455.20,183.59 L456.20,183.47 L457.20,183.33 L458.20,183.17 L459.20,183.00 L460.20,182.80 L461.20,182.58 L462.20,182.34 L463.20,182.06 L464.20,181.77 L465.20,181.44 L466.20,181.08 L467.20,180.69 L468.20,180.26 L469.20,179.81 L470.20,179.33 L471.20,178.82 L472.20,178.28 L473.20,177.71 L474.20,177.11 L475.20,176.49 L476.20,175.84 L477.20,175.17 L478.20,174.48 L479.20,173.76 L480.20,173.03 L481.20,172.29 L482.20,171.53 L483.20,170.76 L484.20,169.98 L485.20,169.20 L486.20,168.40 L487.20,167.61 L488.20,166.80 L489.20,166.00 L490.20,165.19 L491.20,164.38 L492.20,163.56 L493.20,162.75 L494.20,161.94 L495.20,161.12 L496.20,160.31 L497.20,159.49 L498.20,158.66 L499.20,157.83 L500.20,156.99 L501.20,156.15 L502.20,155.29 L503.20,154.42 L504.20,153.54 L505.20,152.65 L506.20,151.75 L507.20,150.84 L508.20,149.92 L509.20,148.99 L510.20,148.06 L511.20,147.11 L512.20,146.16 L513.20,145.20 L514.20,144.23 L515.20,143.26 L516.20,142.28 L517.20,141.30 L518.20,140.32 L519.20,139.33 L520.20,138.34 L521.20,137.35 L522.20,136.37 L523.20,135.38 L524.20,134.40 L525.20,133.42 L526.20,132.44 L527.20,131.47 L528.20,130.49 L529.20,129.51 L530.20,128.53 L531.20,127.55 L532.20,126.56 L533.20,125.57 L534.20,124.58 L535.20,123.57 L536.20,122.57 L537.20,121.55 L538.20,120.53 L539.20,119.49 L540.20,118.45 L541.20,117.39 L542.20,116.32 L543.20,115.24 L544.20,114.14 L545.20,113.03 L546.20,111.90 L547.20,110.75 L548.20,109.59 L549.20,108.40 L550.20,107.20 L551.20,105.98 L552.20,104.73 L553.20,103.45 L554.20,102.15 L555.20,100.80 L556.20,99.42 L557.20,98.00 L558.20,96.54 L559.20,95.03 L560.20,93.49 L561.20,91.90 L562.20,90.28 L563.20,88.61 L564.20,86.92 L565.20,85.18 L566.20,83.42 L567.20,81.61 L568.20,79.78 L569.20,77.92 L570.20,76.02 L571.20,74.09 L572.20,72.14 L573.20,70.15 L574.20,68.14 L575.20,66.10 L576.20,64.02 L577.20,61.91 L578.20,59.77 L579.20,57.60 L580.20,55.40 L581.20,53.16 L582.20,50.89 L583.20,48.58 L584.20,46.24 L585.20,43.88 L586.20,41.48 L587.20,39.06 L588.20,36.60 L589.20,34.12 L590.20,31.62 L591.20,29.09 L592.20,26.54 L593.20,23.98 L594.20,21.40 L595.20,18.82 L596.20,16.23 L596.50,15.45" stroke="#101010" stroke-width="1.25" fill="none" stroke-linejoin="round" stroke-linecap="round"/>
<path d="M444.20,184.21 L445.20,184.14 L446.20,184.07 L447.20,184.00 L448.20,183.92 L449.20,183.84 L450.20,183.76 L451.20,183.67 L452.20,183.57 L453.20,183.47 L454.20,183.36 L455.20,183.24 L456.20,183.12 L457.20,182.98 L458.20,182.83 L459.20,182.67 L460.20,182.49 L461.20,182.30 L462.20,182.10 L463.20,181.88 L464.20,181.65 L465.20,181.40 L466.20,181.13 L467.20,180.84 L468.20,180.54 L469.20,180.23 L470.20,179.90 L471.20,179.56 L472.20,179.21 L473.20,178.85 L474.20,178.48 L475.20,178.10 L476.20,177.71 L477.20,177.31 L478.20,176.91 L479.20,176.50 L480.20,176.09 L481.20,175.68 L482.20,175.26 L483.20,174.85 L484.20,174.43 L485.20,174.01 L486.20,173.60 L487.20,173.18 L488.20,172.76 L489.20,172.34 L490.20,171.93 L491.20,171.51 L492.20,171.09 L493.20,170.67 L494.20,170.25 L495.20,169.82 L496.20,169.40 L497.20,168.98 L498.20,168.55 L499.20,168.13 L500.20,167.70 L501.20,167.28 L502.20,166.85 L503.20,166.43 L504.20,166.00 L505.20,165.58 L506.20,165.16 L507.20,164.73 L508.20,164.31 L509.20,163.89 L510.20,163.47 L511.20,163.04 L512.20,162.62 L513.20,162.20 L514.20,161.78 L515.20,161.36 L516.20,160.94 L517.20,160.52 L518.20,160.10 L519.20,159.68 L520.20,159.26 L521.20,158.84 L522.20,158.42 L523.20,157.99 L524.20,157.57 L525.20,157.14 L526.20,156.70 L527.20,156.26 L528.20,155.81 L529.20,155.36 L530.20,154.89 L531.20,154.41 L532.20,153.92 L533.20,153.41 L534.20,152.88 L535.20,152.34 L536.20,151.77 L537.20,151.19 L538.20,150.58 L539.20,149.94 L540.20,149.28 L541.20,148.60 L542.20,147.88 L543.20,147.14 L544.20,146.36 L545.20,145.56 L546.20,144.72 L547.20,143.85 L548.20,142.95 L549.20,142.01 L550.20,141.03 L551.20,140.02 L552.20,138.97 L553.20,137.88 L554.20,136.74 L555.20,135.57 L556.20,134.35 L557.20,133.09 L558.20,131.78 L559.20,130.43 L560.20,129.03 L561.20,127.59 L562.20,126.09 L563.20,124.55 L564.20,122.96 L565.20,121.33 L566.20,119.65 L567.20,117.92 L568.20,116.15 L569.20,114.34 L570.20,112.49 L571.20,110.59 L572.20,108.66 L573.20,106.70 L574.20,104.69 L575.20,102.64 L576.20,100.56 L577.20,98.44 L578.20,96.28 L579.20,94.07 L580.20,91.83 L581.20,89.55 L582.20,87.22 L583.20,84.85 L584.20,82.43 L585.20,79.96 L586.20,77.45 L587.20,74.89 L588.20,72.28 L589.20,69.62 L590.20,66.92 L591.20,64.17 L592.20,61.38 L593.20,58.55 L594.20,55.69 L595.20,52.80 L596.20,49.88 L597.20,46.94 L598.20,43.97 L599.20,40.98 L600.20,37.96 L601.20,34.93 L602.20,31.87 L603.20,28.80 L604.20,25.71 L605.20,22.61 L606.20,19.50 L607.20,16.39 L607.50,15.45" stroke="#2626b4" stroke-width="1.25" fill="none" stroke-linejoin="round" stroke-linecap="round"/>
<path d="M444.20,184.20 L445.20,184.11 L446.20,184.02 L447.20,183.93 L448.20,183.84 L449.20,183.75 L450.20,183.66 L451.20,183.57 L452.20,183.48 L453.20,183.39 L454.20,183.30 L455.20,183.20 L456.20,183.11 L457.20,183.01 L458.20,182.91 L459.20,182.82 L460.20,182.72 L461.20,182.62 L462.20,182.52 L463.20,182.41 L464.20,182.31 L465.20,182.20 L466.20,182.10 L467.20,181.99 L468.20,181.87 L469.20,181.75 L470.20,181.63 L471.20,181.50 L472.20,181.37 L473.20,181.23 L474.20,181.08 L475.20,180.92 L476.20,180.76 L477.20,180.58 L478.20,180.40 L479.20,180.21 L480.20,180.02 L481.20,179.81 L482.20,179.60 L483.20,179.38 L484.20,179.15 L485.20,178.92 L486.20,178.68 L487.20,178.43 L488.20,178.18 L489.20,177.92 L490.20,177.65 L491.20,177.38 L492.20,177.11 L493.20,176.83 L494.20,176.55 L495.20,176.26 L496.20,175.97 L497.20,175.67 L498.20,175.38 L499.20,175.08 L500.20,174.78 L501.20,174.48 L502.20,174.17 L503.20,173.87 L504.20,173.56 L505.20,173.25 L506.20,172.95 L507.20,172.64 L508.20,172.33 L509.20,172.02 L510.20,171.72 L511.20,171.41 L512.20,171.11 L513.20,170.80 L514.20,170.50 L515.20,170.20 L516.20,169.90 L517.20,169.59 L518.20,169.29 L519.20,168.99 L520.20,168.70 L521.20,168.40 L522.20,168.10 L523.20,167.80 L524.20,167.51 L525.20,167.21 L526.20,166.92 L527.20,166.62 L528.20,166.31 L529.20,166.01 L530.20,165.69 L531.20,165.37 L532.20,165.04 L533.20,164.70 L534.20,164.34 L535.20,163.97 L536.20,163.58 L537.20,163.17 L538.20,162.73 L539.20,162.26 L540.20,161.77 L541.20,161.25 L542.20,160.69 L543.20,160.09 L544.20,159.45 L545.20,158.77 L546.20,158.04 L547.20,157.26 L548.20,156.44 L549.20,155.57 L550.20,154.64 L551.20,153.66 L552.20,152.62 L553.20,151.53 L554.20,150.38 L555.20,149.17 L556.20,147.91 L557.20,146.58 L558.20,145.19 L559.20,143.75 L560.20,142.24 L561.20,140.67 L562.20,139.05 L563.20,137.36 L564.20,135.62 L565.20,133.82 L566.20,131.95 L567.20,130.03 L568.20,128.04 L569.20,126.00 L570.20,123.89 L571.20,121.71 L572.20,119.47 L573.20,117.17 L574.20,114.80 L575.20,112.38 L576.20,109.89 L577.20,107.35 L578.20,104.75 L579.20,102.10 L580.20,99.40 L581.20,96.65 L582.20,93.87 L583.20,91.04 L584.20,88.17 L585.20,85.28 L586.20,82.35 L587.20,79.41 L588.20,76.44 L589.20,73.46 L590.20,70.47 L591.20,67.48 L592.20,64.48 L593.20,61.47 L594.20,58.46 L595.20,55.45 L596.20,52.44 L597.20,49.44 L598.20,46.44 L599.20,43.43 L600.20,40.43 L601.20,37.43 L602.20,34.42 L603.20,31.41 L604.20,28.40 L605.20,25.38 L606.20,22.36 L607.20,19.34 L608.20,16.32 L608.50,15.41" stroke="#cc2c2c" stroke-width="1.25" fill="none" stroke-linejoin="round" stroke-linecap="round"/>
<path d="M444.3,186.3 L446,181.3 L447.6,183.8" stroke="#302020" stroke-width="1.3" fill="none"/>
<path d="M399.5,289.5 H664.5" stroke="#a0a0a0" stroke-width="1.2" fill="none"/>
<path d="M664.5,289.5 V496.3" stroke="#939393" stroke-width="1.2" fill="none"/>
<path d="M399.5,289.5 V496.3 H664.5" stroke="#6a6a6a" stroke-width="1.2" fill="none"/>
<line x1="396.5" y1="461.5" x2="399.5" y2="461.5" stroke="#6a6a6a" stroke-width="1"/>
<text x="392.4" y="464.2" text-anchor="end" class="t" style="font-size:9.4px">0</text>
<line x1="396.5" y1="392.6" x2="399.5" y2="392.6" stroke="#6a6a6a" stroke-width="1"/>
<text x="392.4" y="395.3" text-anchor="end" class="t" style="font-size:9.4px">20</text>
<line x1="396.5" y1="323.6" x2="399.5" y2="323.6" stroke="#6a6a6a" stroke-width="1"/>
<text x="392.4" y="326.3" text-anchor="end" class="t" style="font-size:9.4px">40</text>
<line x1="399.5" y1="496.3" x2="399.5" y2="499.3" stroke="#6a6a6a" stroke-width="1"/>
<text x="399.5" y="511.7" text-anchor="middle" class="t" style="font-size:9.4px">0</text>
<line x1="532.0" y1="496.3" x2="532.0" y2="499.3" stroke="#6a6a6a" stroke-width="1"/>
<text x="532.0" y="511.7" text-anchor="middle" class="t" style="font-size:9.4px">5</text>
<line x1="664.5" y1="496.3" x2="664.5" y2="499.3" stroke="#6a6a6a" stroke-width="1"/>
<text x="664.5" y="511.7" text-anchor="middle" class="t" style="font-size:9.4px">10</text>
<text x="530" y="526.4" text-anchor="middle" class="ti" style="font-size:11px">Time (min)</text>
<text transform="translate(372.6,391.8) rotate(-90)" text-anchor="middle" class="ti" style="font-size:11.2px">dye uptake (%)</text>
<text x="424" y="314" class="pl">E</text>
<text x="432.5" y="395" class="mt">MTX (0.3 nM)</text>
<path d="M445.5,404.5 V452.6 M441.0,437.2 L445.5,452.6 L450.0,437.2" stroke="#5e5e5e" stroke-width="0.9" fill="none"/>
<line x1="470.5" y1="432.7" x2="470.5" y2="496" stroke="#6e6e6e" stroke-width="1.1" stroke-dasharray="10.5,3"/>
<line x1="609.7" y1="370" x2="609.7" y2="496" stroke="#ababab" stroke-width="1.2" stroke-dasharray="10.5,3.5"/>
<path d="M443.20,462.21 L444.20,462.20 L445.20,462.19 L446.20,462.18 L447.20,462.17 L448.20,462.16 L449.20,462.14 L450.20,462.13 L451.20,462.11 L452.20,462.09 L453.20,462.07 L454.20,462.04 L455.20,462.01 L456.20,461.97 L457.20,461.93 L458.20,461.89 L459.20,461.84 L460.20,461.78 L461.20,461.72 L462.20,461.65 L463.20,461.58 L464.20,461.49 L465.20,461.40 L466.20,461.30 L467.20,461.19 L468.20,461.07 L469.20,460.93 L470.20,460.79 L471.20,460.63 L472.20,460.46 L473.20,460.28 L474.20,460.08 L475.20,459.87 L476.20,459.65 L477.20,459.42 L478.20,459.18 L479.20,458.93 L480.20,458.66 L481.20,458.39 L482.20,458.10 L483.20,457.81 L484.20,457.50 L485.20,457.19 L486.20,456.86 L487.20,456.53 L488.20,456.19 L489.20,455.83 L490.20,455.47 L491.20,455.10 L492.20,454.73 L493.20,454.34 L494.20,453.95 L495.20,453.56 L496.20,453.16 L497.20,452.75 L498.20,452.35 L499.20,451.93 L500.20,451.52 L501.20,451.10 L502.20,450.68 L503.20,450.26 L504.20,449.84 L505.20,449.42 L506.20,449.00 L507.20,448.58 L508.20,448.16 L509.20,447.74 L510.20,447.32 L511.20,446.90 L512.20,446.47 L513.20,446.05 L514.20,445.63 L515.20,445.20 L516.20,444.77 L517.20,444.34 L518.20,443.91 L519.20,443.48 L520.20,443.05 L521.20,442.62 L522.20,442.19 L523.20,441.76 L524.20,441.34 L525.20,440.92 L526.20,440.51 L527.20,440.09 L528.20,439.68 L529.20,439.28 L530.20,438.87 L531.20,438.47 L532.20,438.07 L533.20,437.66 L534.20,437.26 L535.20,436.86 L536.20,436.46 L537.20,436.05 L538.20,435.63 L539.20,435.22 L540.20,434.79 L541.20,434.36 L542.20,433.92 L543.20,433.47 L544.20,433.01 L545.20,432.55 L546.20,432.09 L547.20,431.61 L548.20,431.13 L549.20,430.65 L550.20,430.15 L551.20,429.66 L552.20,429.16 L553.20,428.65 L554.20,428.14 L555.20,427.62 L556.20,427.10 L557.20,426.58 L558.20,426.04 L559.20,425.51 L560.20,424.97 L561.20,424.43 L562.20,423.88 L563.20,423.33 L564.20,422.77 L565.20,422.22 L566.20,421.66 L567.20,421.09 L568.20,420.53 L569.20,419.96 L570.20,419.40 L571.20,418.83 L572.20,418.26 L573.20,417.69 L574.20,417.11 L575.20,416.54 L576.20,415.95 L577.20,415.37 L578.20,414.78 L579.20,414.18 L580.20,413.57 L581.20,412.96 L582.20,412.34 L583.20,411.71 L584.20,411.07 L585.20,410.41 L586.20,409.75 L587.20,409.07 L588.20,408.38 L589.20,407.68 L590.20,406.96 L591.20,406.22 L592.20,405.47 L593.20,404.70 L594.20,403.92 L595.20,403.12 L596.20,402.30 L597.20,401.47 L598.20,400.63 L599.20,399.77 L600.20,398.90 L601.20,398.01 L602.20,397.12 L603.20,396.21 L604.20,395.30 L605.20,394.37 L606.20,393.44 L607.20,392.49 L608.20,391.54 L609.20,390.58 L610.20,389.62 L611.20,388.64 L612.20,387.66 L613.20,386.68 L614.20,385.68 L615.20,384.68 L616.20,383.67 L617.20,382.65 L618.20,381.62 L619.20,380.58 L620.20,379.53 L621.20,378.47 L622.20,377.40 L623.20,376.31 L624.20,375.22 L625.20,374.11 L626.20,372.99 L627.20,371.86 L628.20,370.71 L629.20,369.55 L630.20,368.37 L631.20,367.18 L632.20,365.98 L633.20,364.76 L634.20,363.52 L635.20,362.26 L636.20,360.99 L637.20,359.71 L638.20,358.40 L639.20,357.08 L640.20,355.74 L641.20,354.38 L642.20,353.01 L643.20,351.62 L644.20,350.22 L645.20,348.80 L646.20,347.37 L647.20,345.93 L648.20,344.47 L649.20,343.01 L650.20,341.53 L651.20,340.05 L652.20,338.56 L653.20,337.06 L654.20,335.55 L655.20,334.04 L656.20,332.52 L657.20,331.00 L658.20,329.47 L659.20,327.94 L660.20,326.40 L661.20,324.87 L662.20,323.33 L663.20,321.79 L663.90,320.71" stroke="#101010" stroke-width="1.25" fill="none" stroke-linejoin="round" stroke-linecap="round"/>
<path d="M443.20,462.20 L444.20,462.18 L445.20,462.15 L446.20,462.13 L447.20,462.10 L448.20,462.08 L449.20,462.05 L450.20,462.02 L451.20,461.99 L452.20,461.96 L453.20,461.92 L454.20,461.89 L455.20,461.85 L456.20,461.81 L457.20,461.77 L458.20,461.72 L459.20,461.67 L460.20,461.62 L461.20,461.56 L462.20,461.50 L463.20,461.44 L464.20,461.37 L465.20,461.30 L466.20,461.22 L467.20,461.14 L468.20,461.05 L469.20,460.96 L470.20,460.87 L471.20,460.76 L472.20,460.66 L473.20,460.54 L474.20,460.43 L475.20,460.31 L476.20,460.18 L477.20,460.05 L478.20,459.92 L479.20,459.78 L480.20,459.65 L481.20,459.51 L482.20,459.37 L483.20,459.22 L484.20,459.08 L485.20,458.93 L486.20,458.78 L487.20,458.64 L488.20,458.48 L489.20,458.33 L490.20,458.18 L491.20,458.03 L492.20,457.87 L493.20,457.72 L494.20,457.56 L495.20,457.41 L496.20,457.25 L497.20,457.10 L498.20,456.94 L499.20,456.79 L500.20,456.63 L501.20,456.48 L502.20,456.32 L503.20,456.17 L504.20,456.01 L505.20,455.85 L506.20,455.70 L507.20,455.54 L508.20,455.38 L509.20,455.23 L510.20,455.07 L511.20,454.91 L512.20,454.75 L513.20,454.59 L514.20,454.43 L515.20,454.27 L516.20,454.11 L517.20,453.94 L518.20,453.78 L519.20,453.62 L520.20,453.45 L521.20,453.29 L522.20,453.12 L523.20,452.95 L524.20,452.78 L525.20,452.61 L526.20,452.44 L527.20,452.26 L528.20,452.09 L529.20,451.91 L530.20,451.74 L531.20,451.56 L532.20,451.38 L533.20,451.19 L534.20,451.01 L535.20,450.82 L536.20,450.64 L537.20,450.45 L538.20,450.25 L539.20,450.06 L540.20,449.86 L541.20,449.66 L542.20,449.46 L543.20,449.25 L544.20,449.05 L545.20,448.83 L546.20,448.62 L547.20,448.40 L548.20,448.18 L549.20,447.96 L550.20,447.73 L551.20,447.50 L552.20,447.26 L553.20,447.02 L554.20,446.78 L555.20,446.53 L556.20,446.28 L557.20,446.03 L558.20,445.77 L559.20,445.51 L560.20,445.25 L561.20,444.99 L562.20,444.72 L563.20,444.45 L564.20,444.18 L565.20,443.91 L566.20,443.64 L567.20,443.37 L568.20,443.09 L569.20,442.82 L570.20,442.55 L571.20,442.28 L572.20,442.01 L573.20,441.73 L574.20,441.46 L575.20,441.19 L576.20,440.92 L577.20,440.64 L578.20,440.36 L579.20,440.08 L580.20,439.79 L581.20,439.50 L582.20,439.21 L583.20,438.91 L584.20,438.60 L585.20,438.29 L586.20,437.98 L587.20,437.65 L588.20,437.32 L589.20,436.98 L590.20,436.63 L591.20,436.27 L592.20,435.91 L593.20,435.53 L594.20,435.14 L595.20,434.74 L596.20,434.32 L597.20,433.89 L598.20,433.44 L599.20,432.97 L600.20,432.48 L601.20,431.98 L602.20,431.45 L603.20,430.90 L604.20,430.33 L605.20,429.73 L606.20,429.10 L607.20,428.45 L608.20,427.77 L609.20,427.06 L610.20,426.32 L611.20,425.55 L612.20,424.75 L613.20,423.92 L614.20,423.06 L615.20,422.17 L616.20,421.25 L617.20,420.30 L618.20,419.33 L619.20,418.32 L620.20,417.29 L621.20,416.23 L622.20,415.14 L623.20,414.03 L624.20,412.89 L625.20,411.73 L626.20,410.54 L627.20,409.32 L628.20,408.08 L629.20,406.82 L630.20,405.54 L631.20,404.23 L632.20,402.91 L633.20,401.57 L634.20,400.21 L635.20,398.83 L636.20,397.44 L637.20,396.03 L638.20,394.62 L639.20,393.19 L640.20,391.75 L641.20,390.30 L642.20,388.84 L643.20,387.37 L644.20,385.89 L645.20,384.40 L646.20,382.90 L647.20,381.39 L648.20,379.86 L649.20,378.32 L650.20,376.78 L651.20,375.22 L652.20,373.65 L653.20,372.08 L654.20,370.50 L655.20,368.91 L656.20,367.32 L657.20,365.73 L658.20,364.14 L659.20,362.54 L660.20,360.94 L661.20,359.34 L662.20,357.73 L663.20,356.13 L663.90,355.01" stroke="#2626b4" stroke-width="1.25" fill="none" stroke-linejoin="round" stroke-linecap="round"/>
<path d="M443.20,462.20 L444.20,462.16 L445.20,462.12 L446.20,462.07 L447.20,462.03 L448.20,461.99 L449.20,461.95 L450.20,461.91 L451.20,461.87 L452.20,461.84 L453.20,461.80 L454.20,461.76 L455.20,461.72 L456.20,461.69 L457.20,461.65 L458.20,461.62 L459.20,461.59 L460.20,461.56 L461.20,461.53 L462.20,461.50 L463.20,461.47 L464.20,461.45 L465.20,461.42 L466.20,461.40 L467.20,461.38 L468.20,461.36 L469.20,461.35 L470.20,461.33 L471.20,461.32 L472.20,461.31 L473.20,461.30 L474.20,461.29 L475.20,461.29 L476.20,461.28 L477.20,461.27 L478.20,461.27 L479.20,461.26 L480.20,461.25 L481.20,461.24 L482.20,461.23 L483.20,461.22 L484.20,461.21 L485.20,461.19 L486.20,461.17 L487.20,461.15 L488.20,461.13 L489.20,461.10 L490.20,461.08 L491.20,461.04 L492.20,461.01 L493.20,460.97 L494.20,460.93 L495.20,460.88 L496.20,460.83 L497.20,460.77 L498.20,460.71 L499.20,460.65 L500.20,460.58 L501.20,460.51 L502.20,460.43 L503.20,460.35 L504.20,460.27 L505.20,460.18 L506.20,460.10 L507.20,460.01 L508.20,459.92 L509.20,459.82 L510.20,459.73 L511.20,459.63 L512.20,459.54 L513.20,459.44 L514.20,459.34 L515.20,459.25 L516.20,459.15 L517.20,459.05 L518.20,458.96 L519.20,458.86 L520.20,458.77 L521.20,458.68 L522.20,458.58 L523.20,458.49 L524.20,458.40 L525.20,458.31 L526.20,458.22 L527.20,458.13 L528.20,458.05 L529.20,457.96 L530.20,457.88 L531.20,457.79 L532.20,457.71 L533.20,457.63 L534.20,457.56 L535.20,457.48 L536.20,457.40 L537.20,457.32 L538.20,457.23 L539.20,457.14 L540.20,457.05 L541.20,456.96 L542.20,456.85 L543.20,456.75 L544.20,456.63 L545.20,456.51 L546.20,456.39 L547.20,456.26 L548.20,456.12 L549.20,455.98 L550.20,455.83 L551.20,455.67 L552.20,455.51 L553.20,455.34 L554.20,455.17 L555.20,454.99 L556.20,454.81 L557.20,454.62 L558.20,454.43 L559.20,454.24 L560.20,454.04 L561.20,453.84 L562.20,453.64 L563.20,453.44 L564.20,453.24 L565.20,453.03 L566.20,452.82 L567.20,452.61 L568.20,452.40 L569.20,452.19 L570.20,451.97 L571.20,451.76 L572.20,451.54 L573.20,451.32 L574.20,451.10 L575.20,450.87 L576.20,450.65 L577.20,450.42 L578.20,450.19 L579.20,449.96 L580.20,449.73 L581.20,449.49 L582.20,449.26 L583.20,449.02 L584.20,448.77 L585.20,448.53 L586.20,448.27 L587.20,448.02 L588.20,447.75 L589.20,447.48 L590.20,447.19 L591.20,446.90 L592.20,446.60 L593.20,446.29 L594.20,445.96 L595.20,445.62 L596.20,445.27 L597.20,444.89 L598.20,444.50 L599.20,444.08 L600.20,443.64 L601.20,443.18 L602.20,442.70 L603.20,442.18 L604.20,441.64 L605.20,441.07 L606.20,440.48 L607.20,439.84 L608.20,439.18 L609.20,438.48 L610.20,437.75 L611.20,436.98 L612.20,436.18 L613.20,435.34 L614.20,434.46 L615.20,433.56 L616.20,432.62 L617.20,431.65 L618.20,430.65 L619.20,429.63 L620.20,428.57 L621.20,427.48 L622.20,426.37 L623.20,425.23 L624.20,424.06 L625.20,422.87 L626.20,421.66 L627.20,420.42 L628.20,419.16 L629.20,417.88 L630.20,416.58 L631.20,415.26 L632.20,413.93 L633.20,412.57 L634.20,411.21 L635.20,409.82 L636.20,408.43 L637.20,407.02 L638.20,405.60 L639.20,404.18 L640.20,402.74 L641.20,401.30 L642.20,399.85 L643.20,398.39 L644.20,396.93 L645.20,395.45 L646.20,393.97 L647.20,392.48 L648.20,390.98 L649.20,389.47 L650.20,387.95 L651.20,386.42 L652.20,384.88 L653.20,383.33 L654.20,381.77 L655.20,380.20 L656.20,378.61 L657.20,377.01 L658.20,375.40 L659.20,373.79 L660.20,372.16 L661.20,370.54 L662.20,368.90 L663.20,367.27 L663.90,366.12" stroke="#cc2c2c" stroke-width="1.25" fill="none" stroke-linejoin="round" stroke-linecap="round"/>
<path d="M443.6,461.6 L445.6,469 L447.6,462" stroke="#101010" stroke-width="1.4" fill="none"/>
<rect x="442.6" y="460.4" width="3" height="3.5" fill="#3030b0"/>
</svg></body></html>
